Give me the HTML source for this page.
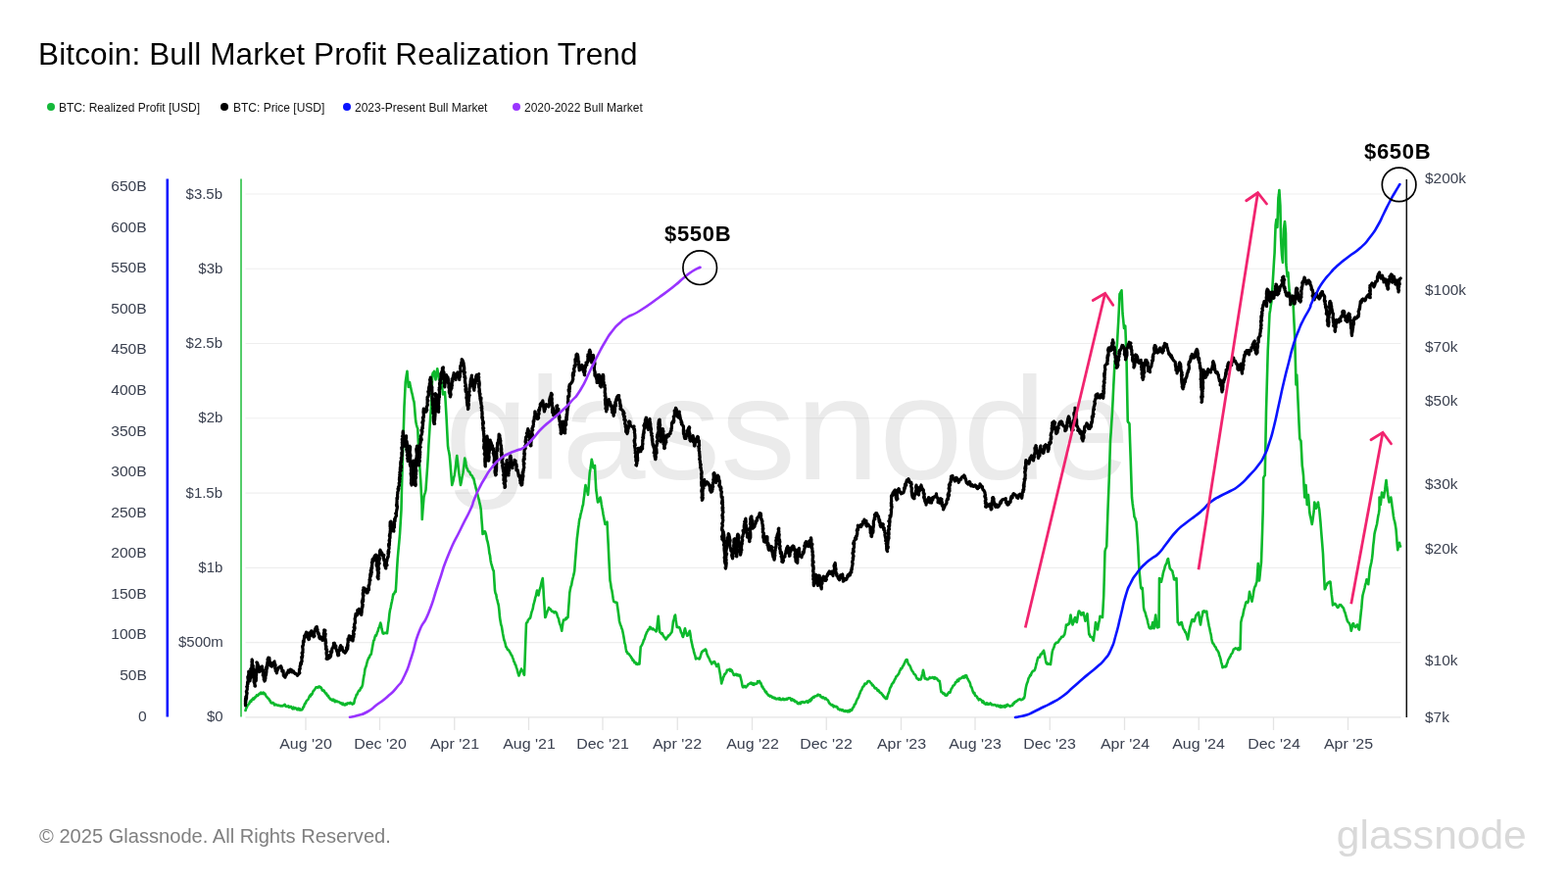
<!DOCTYPE html>
<html><head><meta charset="utf-8"><title>Bitcoin: Bull Market Profit Realization Trend</title>
<style>
html,body{margin:0;padding:0;background:#fff;}
body{width:1600px;height:900px;position:relative;overflow:hidden;font-family:"Liberation Sans",sans-serif;}
.t{position:absolute;white-space:nowrap;line-height:1;will-change:transform;}
.ax{font-size:14px;color:#3b4150;letter-spacing:0px;transform:scaleX(1.14);}
.r{transform-origin:100% 50%;}.l{transform-origin:0 50%;}.c{transform-origin:50% 50%;}
.r{text-align:right;}
.c{text-align:center;}
</style></head><body>
<svg width="1600" height="900" viewBox="0 0 1600 900" style="position:absolute;left:0;top:0">
<text x="454" y="489.3" font-family="'Liberation Sans',sans-serif" font-size="149" fill="#ebebeb" textLength="699" lengthAdjust="spacingAndGlyphs">glassnode</text>
<line x1="250.5" x2="1429.5" y1="655.54" y2="655.54" stroke="rgba(0,0,0,0.065)" stroke-width="1.2"/>
<line x1="250.5" x2="1429.5" y1="579.29" y2="579.29" stroke="rgba(0,0,0,0.065)" stroke-width="1.2"/>
<line x1="250.5" x2="1429.5" y1="503.03" y2="503.03" stroke="rgba(0,0,0,0.065)" stroke-width="1.2"/>
<line x1="250.5" x2="1429.5" y1="426.77" y2="426.77" stroke="rgba(0,0,0,0.065)" stroke-width="1.2"/>
<line x1="250.5" x2="1429.5" y1="350.51" y2="350.51" stroke="rgba(0,0,0,0.065)" stroke-width="1.2"/>
<line x1="250.5" x2="1429.5" y1="274.26" y2="274.26" stroke="rgba(0,0,0,0.065)" stroke-width="1.2"/>
<line x1="250.5" x2="1429.5" y1="198.0" y2="198.0" stroke="rgba(0,0,0,0.065)" stroke-width="1.2"/>
<line x1="250.5" x2="1429.5" y1="731.9" y2="731.9" stroke="#e4e4e4" stroke-width="1.4"/>
<line x1="312" x2="312" y1="732" y2="745" stroke="#e4e4e4" stroke-width="1.3"/>
<line x1="387.5" x2="387.5" y1="732" y2="745" stroke="#e4e4e4" stroke-width="1.3"/>
<line x1="463.75" x2="463.75" y1="732" y2="745" stroke="#e4e4e4" stroke-width="1.3"/>
<line x1="539.5" x2="539.5" y1="732" y2="745" stroke="#e4e4e4" stroke-width="1.3"/>
<line x1="615" x2="615" y1="732" y2="745" stroke="#e4e4e4" stroke-width="1.3"/>
<line x1="691.25" x2="691.25" y1="732" y2="745" stroke="#e4e4e4" stroke-width="1.3"/>
<line x1="767.5" x2="767.5" y1="732" y2="745" stroke="#e4e4e4" stroke-width="1.3"/>
<line x1="843.25" x2="843.25" y1="732" y2="745" stroke="#e4e4e4" stroke-width="1.3"/>
<line x1="919.5" x2="919.5" y1="732" y2="745" stroke="#e4e4e4" stroke-width="1.3"/>
<line x1="995" x2="995" y1="732" y2="745" stroke="#e4e4e4" stroke-width="1.3"/>
<line x1="1071.25" x2="1071.25" y1="732" y2="745" stroke="#e4e4e4" stroke-width="1.3"/>
<line x1="1147.5" x2="1147.5" y1="732" y2="745" stroke="#e4e4e4" stroke-width="1.3"/>
<line x1="1223.25" x2="1223.25" y1="732" y2="745" stroke="#e4e4e4" stroke-width="1.3"/>
<line x1="1299.5" x2="1299.5" y1="732" y2="745" stroke="#e4e4e4" stroke-width="1.3"/>
<line x1="1375.5" x2="1375.5" y1="732" y2="745" stroke="#e4e4e4" stroke-width="1.3"/>
<line x1="170.8" x2="170.8" y1="182.5" y2="731.5" stroke="#0a14ff" stroke-width="2.6"/>
<line x1="246" x2="246" y1="182.5" y2="731.5" stroke="#4ccb63" stroke-width="1.9"/>
<line x1="1435.3" x2="1435.3" y1="183" y2="732" stroke="#111" stroke-width="1.5"/>
<path d="M250.5,725 L251.17,722.81 L251.83,721.76 L252.5,720 L253.12,718.96 L253.75,718.65 L254.38,717.91 L255,716.01 L255.62,715.12 L256.25,715.99 L256.88,714.05 L257.5,713.75 L258.12,712.7 L258.75,713.7 L259.38,712.13 L260,712.34 L260.62,711.1 L261.25,710.9 L261.88,709.41 L262.5,709.85 L263.12,709.8 L263.75,708.59 L264.38,708.5 L265,707.5 L265.62,707.84 L266.25,706.63 L266.88,708.02 L267.5,707.68 L268.12,707.1 L268.75,706.56 L269.38,708.23 L270,707.5 L270.62,708.28 L271.25,709.6 L271.88,710.76 L272.5,711.26 L273.12,712.51 L273.75,712.5 L274.38,713.12 L275,714.77 L275.62,714.89 L276.25,716.7 L276.88,717.42 L277.5,717.5 L278.12,716.94 L278.75,717.27 L279.38,717.68 L280,719.43 L280.62,718.62 L281.25,719.25 L281.88,718.85 L282.5,719.51 L283.12,719.52 L283.75,720 L284.38,719.63 L285,720.02 L285.62,719.94 L286.25,720.51 L286.88,719.99 L287.5,720.41 L288.12,720.19 L288.75,720.38 L289.38,719.67 L290,719.25 L290.62,718.81 L291.25,720.43 L291.88,720.87 L292.5,720.98 L293.12,720.53 L293.75,721.05 L294.38,720.28 L295,721.75 L295.62,721.46 L296.25,721.11 L296.88,720.9 L297.5,722 L298.17,722.87 L298.83,723.31 L299.5,721.68 L300.17,723.27 L300.83,722.65 L301.5,722.3 L302.17,722.75 L302.83,723.87 L303.5,724.25 L304.17,722.76 L304.83,724.06 L305.5,723.09 L306.17,724.6 L306.83,724 L307.5,724.5 L308.12,724.26 L308.75,723.46 L309.38,721.51 L310,721.5 L310.62,719.12 L311.25,717.65 L311.88,717.7 L312.5,715.56 L313.12,714.89 L313.75,714.32 L314.38,713.72 L315,712.5 L315.62,710.87 L316.25,709.71 L316.88,710.42 L317.5,708.38 L318.12,708.73 L318.75,707.67 L319.38,705.69 L320,704.92 L320.62,704.1 L321.25,703.41 L321.88,702.38 L322.5,701.25 L323.12,701.24 L323.75,701.24 L324.38,701.76 L325,700.76 L325.62,700.49 L326.25,700.5 L326.88,701.66 L327.5,701.41 L328.12,702.26 L328.75,704.33 L329.38,704.14 L330,704.91 L330.62,704.55 L331.25,706.25 L331.88,706.83 L332.5,707.91 L333.12,707.54 L333.75,709.48 L334.38,710.26 L335,709.87 L335.62,711.75 L336.25,712.18 L336.88,713.36 L337.5,713.75 L338.12,713.66 L338.75,714.58 L339.38,714.85 L340,713.63 L340.62,713.91 L341.25,715.35 L341.88,716.13 L342.5,714.92 L343.12,715.54 L343.75,716.02 L344.38,715.68 L345,716.25 L345.62,716.28 L346.25,716.48 L346.88,716.89 L347.5,717.64 L348.12,717.35 L348.75,717.8 L349.38,718.89 L350,717.7 L350.62,719.09 L351.25,719.25 L351.88,719.5 L352.5,718.43 L353.12,718.04 L353.75,718.98 L354.38,717.63 L355,717.31 L355.62,717.59 L356.25,717.5 L356.89,718 L357.54,716.92 L358.18,717.47 L358.82,717.6 L359.46,718.7 L360.11,718.02 L360.75,718.25 L361.35,717.06 L361.95,713.79 L362.55,712.22 L363.15,710.95 L363.75,708.75 L364.38,708.69 L365,706.99 L365.62,705.7 L366.25,704.66 L366.88,704.64 L367.5,703.75 L368.12,701.88 L368.75,701.86 L369.38,700.68 L370,698.75 L370.62,694.05 L371.25,690.18 L371.88,687.18 L372.5,682.5 L373.12,680.91 L373.75,679.36 L374.38,676.57 L375,674.26 L375.62,672.71 L376.25,671.25 L376.88,670.9 L377.5,668.92 L378.12,668.13 L378.75,667.5 L379.38,663.9 L380,660.46 L380.62,657.01 L381.25,653.75 L381.88,653.13 L382.5,650.15 L383.12,648.38 L383.75,648.8 L384.38,647.22 L385,645 L385.65,644.07 L386.3,641.07 L386.95,640.2 L387.6,638.25 L388.25,635.5 L388.88,637.63 L389.5,641.37 L390.12,644.24 L390.75,646.25 L391.36,646.58 L391.96,646.29 L392.57,645.83 L393.18,645.93 L393.79,645.7 L394.39,645.39 L395,646.25 L395.6,641.68 L396.2,636.32 L396.8,632.62 L397.4,626.34 L398,622.5 L398.65,620.06 L399.3,616.39 L399.95,613.6 L400.6,610.29 L401.25,606.25 L401.88,606.42 L402.5,605.15 L403.12,603.4 L403.75,603.75 L404.42,592.99 L405.08,580.59 L405.75,570 L406.5,561.27 L407.25,553.66 L408,545 L408.75,532.55 L409.5,520 L410,497.5 L410.62,476.08 L411.25,455 L411.88,435.88 L412.5,415 L413.12,402.72 L413.75,390 L414.33,385.93 L414.92,382 L415.5,378.75 L416.12,387.6 L416.75,395 L417.38,392.45 L418,390 L418.67,393.9 L419.33,396.37 L420,400 L420.62,401.89 L421.25,405.07 L421.88,408.13 L422.5,410 L423.08,416.01 L423.67,423.92 L424.25,430 L424.92,433.34 L425.58,435.61 L426.25,437.5 L426.88,451.9 L427.5,465 L428.08,472.35 L428.67,481.92 L429.25,490 L429.88,503.23 L430.5,515 L430.75,530 L431.33,521.6 L431.92,514.54 L432.5,507.5 L433.17,504.54 L433.83,502.55 L434.5,500 L435.08,491.51 L435.67,483.28 L436.25,475 L436.83,465.55 L437.42,454 L438,445 L438.67,434.11 L439.33,424.25 L440,415 L440.62,398 L441.25,382.5 L441.83,380.39 L442.42,380.95 L443,378.75 L443.75,383.83 L444.5,387.5 L445.08,382.92 L445.67,380 L446.25,376.25 L446.83,379.63 L447.42,383.38 L448,387.5 L448.67,386.37 L449.33,386.13 L450,385 L450.67,391.01 L451.33,396.39 L452,402.5 L452.67,401.05 L453.33,400.49 L454,400 L454.75,411.75 L455.5,425 L456.25,440.11 L457,455 L457.58,458.77 L458.17,461.43 L458.75,465 L459.38,471.66 L460,479.36 L460.62,487.25 L461.25,495 L461.88,492.71 L462.5,490.57 L463.12,487.26 L463.75,485 L464.38,480.6 L465,475.25 L465.62,469.86 L466.25,465 L466.83,469.74 L467.42,474.99 L468,480 L468.67,485.41 L469.33,489.84 L470,495 L470.62,492.26 L471.25,488.67 L471.88,485.12 L472.5,482.5 L473.08,477.57 L473.67,472.89 L474.25,467.5 L474.92,469.98 L475.58,474.02 L476.25,477.5 L476.88,478.29 L477.5,480.13 L478.12,481.19 L478.75,481.25 L479.38,481.94 L480,483.92 L480.62,484.64 L481.25,485 L481.88,485.77 L482.5,487.43 L483.12,488 L483.75,490 L484.38,493.13 L485,495.32 L485.62,498.27 L486.25,500 L486.88,503.08 L487.5,505.34 L488.12,507.97 L488.75,510 L489.42,513.46 L490.08,515.87 L490.75,520 L491.33,528.51 L491.92,535.68 L492.5,545 L493.12,543.66 L493.75,544.3 L494.38,542.21 L495,542.5 L495.62,544.18 L496.25,546.7 L496.88,550.76 L497.5,552.5 L498.12,555.61 L498.75,559.05 L499.38,564.43 L500,566.74 L500.62,571.94 L501.25,575 L501.88,577.22 L502.5,579.42 L503.12,581.53 L503.75,582.5 L504.38,592.66 L505,602.5 L505.62,605.6 L506.25,606.57 L506.88,610.53 L507.5,612.52 L508.12,615.43 L508.75,617.5 L509.38,622.96 L510,630 L510.62,633.83 L511.25,637.54 L511.88,639.12 L512.5,642.98 L513.12,646.79 L513.75,650 L514.38,653.16 L515,654.48 L515.62,656.86 L516.25,660 L516.88,660.33 L517.5,661.9 L518.12,663.01 L518.75,663.12 L519.38,663.9 L520,665 L520.62,666.04 L521.25,667.2 L521.88,668.59 L522.5,669.17 L523.12,671.25 L523.75,672.5 L524.38,675.11 L525,675.66 L525.62,677.99 L526.25,678.49 L526.88,681.22 L527.5,682.5 L528.17,685.35 L528.83,687.51 L529.5,689.5 L530.12,687.78 L530.75,685.97 L531.38,684.54 L532,682.5 L532.6,684.54 L533.2,684.3 L533.8,685.44 L534.4,688 L535,688.75 L535.67,672.08 L536.33,653.78 L537,636.25 L537.61,635.24 L538.21,634.9 L538.82,632.94 L539.43,632.21 L540.04,631.18 L540.64,631.06 L541.25,630 L541.88,627.13 L542.5,624.46 L543.12,622.88 L543.75,620.91 L544.38,617.09 L545,615 L545.6,612.91 L546.2,609.83 L546.8,608.21 L547.4,605.17 L548,602.5 L548.75,604.53 L549.5,607.5 L550.11,604.44 L550.71,601.55 L551.32,599.96 L551.93,597.27 L552.54,594.34 L553.14,592.22 L553.75,590 L554.38,599.64 L555,610.55 L555.62,619.29 L556.25,630 L556.88,629.32 L557.5,626.63 L558.12,625.2 L558.75,623.27 L559.38,622.34 L560,620 L560.62,621.27 L561.25,621.36 L561.88,621.84 L562.5,622.94 L563.12,623.84 L563.75,623.75 L564.38,623.76 L565,624.63 L565.62,625.3 L566.25,624.52 L566.88,624.25 L567.5,625 L568.12,626.03 L568.75,628.56 L569.38,630.04 L570,631.25 L570.65,634.67 L571.3,636.96 L571.95,638.23 L572.6,640.63 L573.25,643.75 L573.83,639.52 L574.42,635.62 L575,632.5 L575.64,632.55 L576.29,632.5 L576.93,632.23 L577.57,630.58 L578.21,631.44 L578.86,629.98 L579.5,630 L580.08,621.51 L580.67,613.79 L581.25,605 L581.88,601.36 L582.5,598.56 L583.12,597.23 L583.75,593.33 L584.38,590.65 L585,588.29 L585.62,585.66 L586.25,582.5 L586.88,573.39 L587.5,565.92 L588.12,558 L588.75,550 L589.38,544.97 L590,539.42 L590.62,535.17 L591.25,530 L591.88,528.41 L592.5,524.78 L593.12,522.59 L593.75,520 L594.38,516.74 L595,515 L595.62,509.55 L596.25,505.33 L596.88,499.23 L597.5,495 L598.12,498.27 L598.75,500.82 L599.38,501.69 L600,505 L600.58,498.38 L601.17,489.75 L601.75,482.5 L602.42,478.46 L603.08,473.85 L603.75,468.75 L604.33,471.26 L604.92,474.94 L605.5,477.5 L606.25,476.56 L607,475 L607.62,488.11 L608.25,500 L608.83,503.7 L609.42,508.84 L610,512.5 L610.62,512.17 L611.25,510.35 L611.88,508.82 L612.5,507.5 L613.08,510.06 L613.67,514.15 L614.25,517.5 L614.9,520.7 L615.55,524.94 L616.2,528.36 L616.85,531.63 L617.5,535 L618.17,533.53 L618.83,533.62 L619.5,532.5 L620.1,544.76 L620.7,555.86 L621.3,569.28 L621.9,580.81 L622.5,592.5 L623.12,595.29 L623.75,600.45 L624.38,602.41 L625,606.33 L625.62,610.65 L626.25,613.75 L626.9,614.19 L627.55,614.36 L628.2,614.79 L628.85,614.67 L629.5,615 L630.12,619.31 L630.75,623.73 L631.38,628.2 L632,633.75 L632.6,635.93 L633.2,637.76 L633.8,639.09 L634.4,641.23 L635,642.5 L635.61,645.43 L636.21,648.46 L636.82,651.91 L637.43,656.1 L638.04,657.66 L638.64,661.8 L639.25,665 L639.89,665.21 L640.54,666.97 L641.18,666.85 L641.82,667.52 L642.46,668.38 L643.11,669.37 L643.75,670 L644.38,671.59 L645,671.79 L645.62,673.82 L646.25,673.39 L646.88,674.75 L647.5,676.25 L648.12,675.76 L648.75,676.1 L649.38,677.75 L650,677.5 L650.62,677.95 L651.25,676.87 L651.88,676.88 L652.5,677.5 L653.12,668.58 L653.75,660 L654.38,659.24 L655,658.13 L655.62,656.75 L656.25,655.18 L656.88,653.04 L657.5,652.5 L658.12,650.42 L658.75,648.14 L659.38,646.93 L660,645 L660.62,644.3 L661.25,642.74 L661.88,642 L662.5,642.23 L663.12,639.89 L663.75,640 L664.38,641.02 L665,641.62 L665.62,642.15 L666.25,641.43 L666.88,642.19 L667.5,642.5 L668.12,642.98 L668.75,643.39 L669.38,644.39 L670,643.75 L670.58,639.12 L671.17,633.35 L671.75,628.75 L672.5,637.6 L673.25,645 L673.85,645.47 L674.45,646.2 L675.05,646.95 L675.65,646 L676.25,647.5 L676.9,649.04 L677.55,649.82 L678.2,650.48 L678.85,651.55 L679.5,652.5 L680.1,651.67 L680.7,650.39 L681.3,650.31 L681.9,648.57 L682.5,648.75 L683.1,648 L683.7,647.54 L684.3,646.39 L684.9,645.88 L685.5,645 L686.25,640.29 L687,633.75 L687.67,632.45 L688.33,628.85 L689,627.5 L689.58,632.25 L690.17,636.08 L690.75,640 L691.35,639.35 L691.95,640.22 L692.55,640.22 L693.15,640.16 L693.75,641.25 L694.4,643.08 L695.05,645.61 L695.7,646.15 L696.35,648.99 L697,650 L697.67,647.47 L698.33,643.44 L699,641.25 L699.75,644.47 L700.5,646.45 L701.25,648.75 L701.88,648.35 L702.5,646.68 L703.12,645.48 L703.75,643.75 L704.38,646.87 L705,651.24 L705.62,654.93 L706.25,657.5 L706.88,660.72 L707.5,662.37 L708.12,665.51 L708.75,667.47 L709.38,669.22 L710,672.5 L710.62,671.59 L711.25,671.66 L711.88,671.9 L712.5,671.82 L713.12,672.49 L713.75,672.5 L714.38,671.02 L715,668.82 L715.62,666.72 L716.25,665 L716.88,664.88 L717.5,663.78 L718.12,663.68 L718.75,663.85 L719.38,662.72 L720,662.5 L720.62,663.74 L721.25,667.05 L721.88,668.56 L722.5,670 L723.12,670.98 L723.75,672.24 L724.38,673.81 L725,675.19 L725.62,675.7 L726.25,677.5 L726.88,675.88 L727.5,675.67 L728.12,676.19 L728.75,675 L729.38,675.54 L730,677.42 L730.62,678.14 L731.25,680 L731.83,678.59 L732.42,677.67 L733,677.5 L733.65,681.31 L734.3,684.84 L734.95,688.55 L735.6,692.72 L736.25,697.5 L736.88,694.96 L737.5,693.73 L738.12,690.99 L738.75,690 L739.38,688 L740,687.81 L740.62,686.69 L741.25,686.24 L741.88,683.89 L742.5,683.75 L743.12,683.56 L743.75,683.54 L744.38,682.8 L745,684.68 L745.62,683.19 L746.25,683.75 L746.88,684.19 L747.5,686.2 L748.12,686.83 L748.75,688.75 L749.38,688.99 L750,688.44 L750.62,688 L751.25,687.85 L751.88,689.21 L752.5,688.3 L753.12,689.33 L753.75,688.68 L754.38,689.62 L755,688.75 L755.6,690.85 L756.2,693.25 L756.8,695.78 L757.4,699.38 L758,701.25 L758.64,701.33 L759.29,700.58 L759.93,699.9 L760.57,700.9 L761.21,701.3 L761.86,700.36 L762.5,700 L763.12,698.59 L763.75,698.23 L764.38,697.93 L765,697.67 L765.62,696.99 L766.25,697.5 L766.88,696.69 L767.5,697.98 L768.12,698.55 L768.75,697.23 L769.38,698.86 L770,698 L770.62,697.58 L771.25,697.86 L771.88,697.71 L772.5,697.38 L773.12,695.19 L773.75,695.36 L774.38,695.59 L775,695 L775.62,697.14 L776.25,696.68 L776.88,698.34 L777.5,700.7 L778.12,700.48 L778.75,702.5 L779.38,703.06 L780,703.73 L780.62,705.2 L781.25,706.48 L781.88,705.76 L782.5,707.67 L783.12,708.44 L783.75,708.75 L784.38,709.8 L785,709.61 L785.62,710.72 L786.25,709.98 L786.88,710.45 L787.5,710.46 L788.12,711.93 L788.75,711.71 L789.38,711.66 L790,712.5 L790.62,711.94 L791.25,713.15 L791.88,713.02 L792.5,713.34 L793.12,712.79 L793.75,713.1 L794.38,712.54 L795,713.75 L795.62,712.48 L796.25,713.48 L796.88,714.16 L797.5,713.75 L798.12,714 L798.75,712.74 L799.38,712.91 L800,714.02 L800.62,713.51 L801.25,713.88 L801.88,713.77 L802.5,712.82 L803.12,713.61 L803.75,713.17 L804.38,712.27 L805,712.5 L805.62,712.55 L806.25,712.27 L806.88,713.24 L807.5,714.66 L808.12,713.27 L808.75,714.51 L809.38,713.91 L810,715 L810.62,714.57 L811.25,716.11 L811.88,715.7 L812.5,715.72 L813.12,716.34 L813.75,717.73 L814.38,718.01 L815,718.25 L815.62,716.94 L816.25,717.04 L816.88,718.18 L817.5,716.36 L818.12,716.71 L818.75,716.25 L819.38,716.09 L820,716.81 L820.62,716.46 L821.25,716.83 L821.88,716.32 L822.5,715.63 L823.12,715.61 L823.75,715.41 L824.38,716.9 L825,716.25 L825.62,714.9 L826.25,714.15 L826.88,715.46 L827.5,713.35 L828.12,714.16 L828.75,711.97 L829.38,712.16 L830,711.1 L830.62,711.73 L831.25,710.5 L831.88,710.44 L832.5,710.2 L833.12,710.15 L833.75,710.08 L834.38,708.73 L835,708.75 L835.62,709.37 L836.25,709.47 L836.88,709.22 L837.5,711.09 L838.12,711.02 L838.75,711.25 L839.38,712.19 L840,711.29 L840.62,712.27 L841.25,712.43 L841.88,713.27 L842.5,712.28 L843.12,713.13 L843.75,713.75 L844.38,714.55 L845,714.56 L845.62,716.36 L846.25,717.55 L846.88,717.76 L847.5,718.75 L848.12,719.36 L848.75,719.59 L849.38,719.12 L850,719.7 L850.62,721.3 L851.25,720.3 L851.88,720.8 L852.5,721.25 L853.12,720.73 L853.75,721.31 L854.38,721.52 L855,723.36 L855.62,723.27 L856.25,723.87 L856.88,724.41 L857.5,723.75 L858.12,724.15 L858.75,724.96 L859.38,724.35 L860,724.29 L860.62,725.52 L861.25,725.61 L861.88,725.87 L862.5,725.12 L863.12,725.87 L863.75,725.5 L864.38,725.25 L865,726.37 L865.62,726.15 L866.25,724.83 L866.88,726.06 L867.5,724.49 L868.12,724.25 L868.75,725 L869.38,724.4 L870,722.51 L870.62,721.91 L871.25,721.11 L871.88,718.87 L872.5,718.75 L873.12,717.83 L873.75,715.49 L874.38,714.4 L875,712.81 L875.62,712.2 L876.25,710.81 L876.88,708.48 L877.5,707.5 L878.12,705.46 L878.75,704.6 L879.38,703.57 L880,701.66 L880.62,700.56 L881.25,700.53 L881.88,699.15 L882.5,697.5 L883.14,698.1 L883.79,697.75 L884.43,697.18 L885.07,695.82 L885.71,695.04 L886.36,694.98 L887,695 L887.61,695.64 L888.21,696.48 L888.82,697.23 L889.43,697.58 L890.04,699.28 L890.64,698.86 L891.25,700 L891.88,700.55 L892.5,702.02 L893.12,702.49 L893.75,702.09 L894.38,702.61 L895,703.75 L895.62,704.99 L896.25,704.02 L896.88,704.89 L897.5,706.31 L898.12,706.95 L898.75,706.83 L899.38,707.23 L900,708.75 L900.62,708.69 L901.25,710.35 L901.88,710.28 L902.5,711.83 L903.12,711.98 L903.75,712.9 L904.38,711.54 L905,713 L905.62,710.41 L906.25,708.11 L906.88,706.99 L907.5,704.84 L908.12,702.31 L908.75,701.25 L909.38,700.25 L910,698.25 L910.62,697.59 L911.25,696.37 L911.88,696.39 L912.5,694.52 L913.12,693.11 L913.75,692.5 L914.38,690.49 L915,690.17 L915.62,689.47 L916.25,688.48 L916.88,687.86 L917.5,686.55 L918.12,684.34 L918.75,683.75 L919.38,681.98 L920,682.18 L920.62,681.2 L921.25,679.6 L921.88,679.2 L922.5,677.5 L923.12,676.48 L923.75,674.81 L924.38,673.46 L925,673 L925.62,673.2 L926.25,675.62 L926.88,677.29 L927.5,678.48 L928.12,678.77 L928.75,680 L929.38,681.58 L930,683.36 L930.62,684.38 L931.25,685.21 L931.88,686.08 L932.5,687.5 L933.12,688.32 L933.75,688.4 L934.38,689.21 L935,690.99 L935.62,692.39 L936.25,692.28 L936.88,692.79 L937.5,693.75 L938.12,693.14 L938.75,693.03 L939.38,693.42 L940,692.5 L940.67,689.49 L941.33,687.59 L942,683.75 L942.58,685.98 L943.17,689.21 L943.75,692.5 L944.38,692.54 L945,692.32 L945.62,693.2 L946.25,693.16 L946.88,693.36 L947.5,692.5 L948.12,692.52 L948.75,691.14 L949.38,692.02 L950,691.77 L950.62,691.43 L951.25,691.25 L951.88,690.97 L952.5,691.98 L953.12,692.54 L953.75,691.08 L954.38,692.37 L955,691.93 L955.62,692.37 L956.25,692.5 L956.88,693.92 L957.5,694.67 L958.12,694.66 L958.75,695 L959.33,698.14 L959.92,703.34 L960.5,706.25 L961.14,705.97 L961.78,706.74 L962.42,707.99 L963.06,707.33 L963.69,707.6 L964.33,709.32 L964.97,709.67 L965.61,708.77 L966.25,709.5 L966.88,708.54 L967.5,707.56 L968.12,706.51 L968.75,706 L969.38,706.71 L970,705 L970.62,703.06 L971.25,702.27 L971.88,701.12 L972.5,699.78 L973.12,699.58 L973.75,698.92 L974.38,698.02 L975,696.25 L975.62,696.04 L976.25,695.95 L976.88,693.85 L977.5,693.94 L978.12,694.83 L978.75,692.58 L979.38,692.5 L980,692.5 L980.62,692.17 L981.25,691.44 L981.88,691.69 L982.5,690.39 L983.12,690.47 L983.75,691.62 L984.38,689.69 L985,690.91 L985.62,689.16 L986.25,689.5 L986.88,691.86 L987.5,692.6 L988.12,693.92 L988.75,695 L989.38,695.95 L990,697.44 L990.62,700.52 L991.25,701.02 L991.88,702.71 L992.5,705 L993.12,706.58 L993.75,707.62 L994.38,706.91 L995,709.67 L995.62,709.76 L996.25,710.39 L996.88,710.78 L997.5,712.5 L998.12,712.7 L998.75,714.31 L999.38,713.31 L1000,713.43 L1000.62,713.87 L1001.25,714.25 L1001.88,715.12 L1002.5,716.66 L1003.12,715.4 L1003.75,716.05 L1004.38,717.96 L1005,717.5 L1005.62,718.6 L1006.25,718.67 L1006.88,717.3 L1007.5,717.63 L1008.12,718.92 L1008.75,718.1 L1009.38,718.64 L1010,717.96 L1010.62,717.48 L1011.25,718.23 L1011.88,719.14 L1012.5,718.75 L1013.12,719.47 L1013.75,719.2 L1014.38,719.15 L1015,719.45 L1015.62,719.42 L1016.25,719.76 L1016.88,720.51 L1017.5,720 L1018.12,719.53 L1018.75,720.44 L1019.38,721.24 L1020,721.2 L1020.62,719.98 L1021.25,721.68 L1021.88,721.56 L1022.5,720.34 L1023.12,720.66 L1023.75,721.25 L1024.38,720.44 L1025,719.92 L1025.62,721.55 L1026.25,720.19 L1026.88,720.9 L1027.5,719.17 L1028.12,718.75 L1028.75,719.5 L1029.38,720.32 L1030,720.25 L1030.62,720.73 L1031.25,720.2 L1031.88,719.97 L1032.5,720 L1033.12,719.91 L1033.75,717.94 L1034.38,718.21 L1035,717.38 L1035.62,716.17 L1036.25,716.25 L1036.88,716.03 L1037.5,715.06 L1038.12,715.01 L1038.75,714.33 L1039.38,713.8 L1040,713.75 L1040.62,713.31 L1041.25,713.64 L1041.88,714.24 L1042.5,714 L1043.12,713.69 L1043.75,713.48 L1044.38,712.23 L1045,712.5 L1045.62,710.02 L1046.25,705.16 L1046.88,701.43 L1047.5,698.75 L1048.12,696.88 L1048.75,695.46 L1049.38,692.81 L1050,691.25 L1050.62,690.5 L1051.25,688.73 L1051.88,689.06 L1052.5,686.99 L1053.12,686 L1053.75,685 L1054.38,684.44 L1055,684.5 L1055.62,684.1 L1056.25,682.5 L1056.88,680.06 L1057.5,677.38 L1058.12,675.24 L1058.75,672.5 L1059.38,670.81 L1060,670.68 L1060.62,670.69 L1061.25,669.72 L1061.88,667.45 L1062.5,667.5 L1063.12,667.27 L1063.75,665.39 L1064.38,665.65 L1065,663.75 L1065.62,666.61 L1066.25,669.43 L1066.88,673.22 L1067.5,676.25 L1068.14,677.27 L1068.79,676.61 L1069.43,677.73 L1070.07,677.67 L1070.71,677.22 L1071.36,677.35 L1072,678 L1072.58,673.68 L1073.17,669.13 L1073.75,665 L1074.38,662.87 L1075,661.55 L1075.62,660.13 L1076.25,657.5 L1076.88,657.25 L1077.5,655.96 L1078.12,655.69 L1078.75,655.58 L1079.38,655.65 L1080,655 L1080.62,653.45 L1081.25,652.5 L1081.88,652.14 L1082.5,651.23 L1083.12,649.89 L1083.75,650 L1084.38,649.45 L1085,649.59 L1085.62,648.19 L1086.25,647.5 L1086.83,644.64 L1087.42,641.49 L1088,637.5 L1088.65,637.93 L1089.3,637.83 L1089.95,636.63 L1090.6,636.86 L1091.25,636.25 L1091.88,631.12 L1092.5,627.5 L1093.17,631.59 L1093.83,633.92 L1094.5,637.5 L1095.12,635.58 L1095.75,634.53 L1096.38,631.45 L1097,630 L1097.58,631.05 L1098.17,633.98 L1098.75,635 L1099.42,631.45 L1100.08,626.67 L1100.75,623.75 L1101.35,623.56 L1101.95,624.95 L1102.55,625.01 L1103.15,627.41 L1103.75,627.5 L1104.33,626.03 L1104.92,625.38 L1105.5,625 L1106.17,627.69 L1106.83,630.86 L1107.5,633.75 L1108.17,631.11 L1108.83,629.01 L1109.5,626.25 L1110.08,633.65 L1110.67,640.29 L1111.25,647.5 L1111.88,647.32 L1112.5,649.71 L1113.12,649.76 L1113.75,650 L1114.42,650.42 L1115.08,652.38 L1115.75,653.75 L1116.5,648.01 L1117.25,642.23 L1118,635 L1118.67,636.63 L1119.33,639.02 L1120,642.5 L1120.62,639.02 L1121.25,635.47 L1121.88,632.98 L1122.5,628.75 L1123.12,629.72 L1123.75,629.04 L1124.38,629.53 L1125,630 L1125.62,618.92 L1126.25,607.5 L1126.88,585.77 L1127.5,562.5 L1128.08,560.24 L1128.67,558.95 L1129.25,557.5 L1129.88,537.93 L1130.5,520 L1131.25,501.53 L1132,482.5 L1132.5,465.3 L1133,450 L1133.67,440.87 L1134.33,430.05 L1135,420 L1135.62,407.65 L1136.25,394.17 L1136.88,381.96 L1137.5,370 L1138.12,364.94 L1138.75,360.71 L1139.38,355.08 L1140,350 L1140.62,338.32 L1141.25,327.5 L1141.88,314.71 L1142.5,300 L1143.17,299.07 L1143.83,297.56 L1144.5,296.25 L1145,307.53 L1145.5,320 L1146.25,327.1 L1147,335 L1147.62,334.55 L1148.25,332.5 L1148.88,348.02 L1149.5,365 L1150.12,397.56 L1150.75,430 L1151.33,431.07 L1151.92,431.38 L1152.5,432.5 L1153.12,451.79 L1153.75,470 L1154.38,489.57 L1155,507.5 L1155.62,513.22 L1156.25,517.98 L1156.88,521.91 L1157.5,527.5 L1158.17,528.29 L1158.83,530.7 L1159.5,532.5 L1160.08,540.46 L1160.67,548.55 L1161.25,557.5 L1161.88,570.74 L1162.5,582.5 L1163.08,587.77 L1163.67,594.81 L1164.25,600 L1165,600.88 L1165.75,600 L1166.38,609.24 L1167,620 L1167.62,623.01 L1168.25,624.17 L1168.88,625.99 L1169.5,628.75 L1170.1,630.37 L1170.7,632.33 L1171.3,635.5 L1171.9,637.52 L1172.5,640 L1173.12,641.02 L1173.75,641.29 L1174.38,640.05 L1175,641.25 L1175.62,637.93 L1176.25,635 L1176.88,637.9 L1177.5,641.25 L1178.08,636.02 L1178.67,631.58 L1179.25,627.5 L1179.88,633.28 L1180.5,640 L1181.17,640.39 L1181.83,639.68 L1182.5,640 L1183,590 L1183.67,590.47 L1184.33,591.94 L1185,593.75 L1185.62,590.82 L1186.25,588.25 L1186.88,584.8 L1187.5,582.5 L1188.17,580.82 L1188.83,577.76 L1189.5,576.25 L1190.12,575.03 L1190.75,573.34 L1191.38,570.91 L1192,570 L1192.58,573.84 L1193.17,576.46 L1193.75,580 L1194.38,580.7 L1195,581.45 L1195.62,582.13 L1196.25,582.5 L1196.83,585.3 L1197.42,587.45 L1198,591.25 L1198.62,591.51 L1199.25,591.34 L1199.88,590.29 L1200.5,590 L1201.12,612.66 L1201.75,635 L1202.42,635.37 L1203.08,637.46 L1203.75,637.5 L1204.42,637.04 L1205.08,635.28 L1205.75,635 L1206.5,638.13 L1207.25,640.97 L1208,642.5 L1208.67,643.03 L1209.33,645.16 L1210,645 L1210.67,647.47 L1211.33,649.36 L1212,652.5 L1212.75,648.77 L1213.5,643.84 L1214.25,640 L1214.92,637.96 L1215.58,635.17 L1216.25,632.5 L1216.88,632.03 L1217.5,633.18 L1218.12,634.14 L1218.75,633.75 L1219.33,631.62 L1219.92,629.66 L1220.5,627.5 L1221.12,627.6 L1221.75,626.14 L1222.38,625.61 L1223,625 L1223.67,629.33 L1224.33,633.98 L1225,637.5 L1225.62,633.47 L1226.25,629.81 L1226.88,627.71 L1227.5,623.75 L1228.12,623.86 L1228.75,623.36 L1229.38,624.53 L1230,624.52 L1230.62,623.83 L1231.25,623.75 L1231.83,628.48 L1232.42,631.92 L1233,635 L1233.67,638.83 L1234.33,641.25 L1235,645 L1235.67,647.35 L1236.33,652.02 L1237,655 L1237.6,656.47 L1238.2,656.7 L1238.8,657.96 L1239.4,659.13 L1240,660 L1240.6,660.5 L1241.2,662.4 L1241.8,663.13 L1242.4,663.77 L1243,665 L1243.62,666.09 L1244.25,668.86 L1244.88,670.26 L1245.5,672.5 L1246.17,675.87 L1246.83,677.68 L1247.5,681.25 L1248.12,680.83 L1248.75,680.23 L1249.38,680.44 L1250,680.57 L1250.62,679.42 L1251.25,680 L1251.88,677.23 L1252.5,676.21 L1253.12,673.78 L1253.75,672.5 L1254.33,671.68 L1254.92,670.17 L1255.5,670 L1256.15,667.7 L1256.8,667.08 L1257.45,666.35 L1258.1,664.74 L1258.75,662.5 L1259.38,662.45 L1260,662.13 L1260.62,661.38 L1261.25,661.72 L1261.88,661.71 L1262.5,662 L1263.1,662.98 L1263.7,661.43 L1264.3,663.2 L1264.9,662.35 L1265.5,662.5 L1266.25,635 L1266.88,632.37 L1267.5,629.52 L1268.12,628.43 L1268.75,625 L1269.38,621.87 L1270,620.14 L1270.62,617.52 L1271.25,615 L1271.88,614.09 L1272.5,613.82 L1273.12,615.03 L1273.75,613.75 L1274.38,609.33 L1275,603.75 L1275.62,606.72 L1276.25,609.56 L1276.88,610.45 L1277.5,613.75 L1278.12,610.72 L1278.75,607.38 L1279.38,602.89 L1280,600 L1280.62,598.35 L1281.25,597.82 L1281.88,594.97 L1282.5,593.75 L1283.12,584.9 L1283.75,575 L1284.38,583.08 L1285,592.5 L1285.67,586.58 L1286.33,579.54 L1287,573.75 L1287.5,559.39 L1288,545 L1288.75,520 L1289.25,487.5 L1290,485.99 L1290.75,485 L1291.38,453.24 L1292,420 L1292.58,399.66 L1293.17,378.34 L1293.75,357.5 L1294.33,345.37 L1294.92,332.36 L1295.5,320 L1296.17,316.44 L1296.83,311.18 L1297.5,307.5 L1298.12,297.69 L1298.74,287.87 L1299.36,277.58 L1299.98,266.99 L1300.6,258 L1301.1,243.34 L1301.6,230 L1302.4,224 L1302.9,228.28 L1303.4,232 L1303.9,216.42 L1304.4,202 L1304.9,198.52 L1305.4,194 L1305.9,202.01 L1306.4,210 L1307,242 L1307.5,251.91 L1308,260 L1308.5,264.7 L1309,268 L1309.5,251.45 L1310,234 L1310.5,229.75 L1311,226 L1311.5,231.09 L1312,238 L1312.4,270 L1313,276.11 L1313.6,282 L1314.4,278 L1315,287.49 L1315.6,296 L1316.2,300.34 L1316.8,302.41 L1317.4,305.82 L1318,310 L1318.75,309.71 L1319.5,307.5 L1320.08,320.48 L1320.67,332.47 L1321.25,345 L1321.88,369.23 L1322.5,392.5 L1323.25,382.5 L1323.83,394.3 L1324.42,407.59 L1325,420 L1325.62,434.09 L1326.25,447.5 L1326.88,448.96 L1327.5,450 L1328.12,461.82 L1328.75,475 L1329.38,479.27 L1330,485 L1330.62,496.5 L1331.25,507.5 L1331.88,502.02 L1332.5,495 L1333.12,504.28 L1333.75,515 L1334.38,509.01 L1335,505 L1335.62,512.92 L1336.25,522.5 L1336.88,526.2 L1337.5,528.53 L1338.12,531.79 L1338.75,535 L1339.42,531.4 L1340.08,526.06 L1340.75,521.25 L1341.25,512.5 L1341.83,514.11 L1342.42,517.07 L1343,518.75 L1343.67,515.67 L1344.33,514.15 L1345,512.5 L1345.62,516.65 L1346.25,520 L1346.83,526.01 L1347.42,532.4 L1348,540 L1348.67,548.37 L1349.33,556.32 L1350,565 L1350.58,578.03 L1351.17,588.37 L1351.75,601.25 L1352.44,600.29 L1353.12,597.9 L1353.81,597.17 L1354.5,595 L1355.1,594.64 L1355.7,594.83 L1356.3,593.9 L1356.9,593.45 L1357.5,593.75 L1358.12,599.59 L1358.75,606.23 L1359.38,611.25 L1360,617.5 L1360.62,616.65 L1361.25,616.71 L1361.88,615.75 L1362.5,616.25 L1363.12,616.82 L1363.75,618.27 L1364.38,619.15 L1365,620 L1365.62,619.57 L1366.25,618.33 L1366.88,617.17 L1367.5,617.5 L1368.1,617.05 L1368.7,618.18 L1369.3,618.39 L1369.9,619.64 L1370.5,620 L1371.17,621.2 L1371.83,623.86 L1372.5,625 L1373.12,627.39 L1373.75,629.7 L1374.38,632.03 L1375,633.75 L1375.62,634.73 L1376.25,635.48 L1376.88,636.18 L1377.5,637.5 L1378.12,639.75 L1378.75,643.75 L1379.33,641.84 L1379.92,638.75 L1380.5,636.25 L1381.12,636.39 L1381.75,638.98 L1382.38,639.23 L1383,640 L1383.67,639.41 L1384.33,638.21 L1385,637.5 L1385.67,638.42 L1386.33,641.83 L1387,642.5 L1387.58,636 L1388.17,630.57 L1388.75,625 L1389.33,620.17 L1389.92,612.58 L1390.5,607.5 L1391.17,605 L1391.83,602.46 L1392.5,600 L1393.17,596.58 L1393.83,595.02 L1394.5,591.25 L1395.08,592.75 L1395.67,593.61 L1396.25,596.25 L1396.83,590.78 L1397.42,584.43 L1398,580 L1398.67,577.08 L1399.33,574.07 L1400,570 L1400.62,564.56 L1401.25,556.6 L1401.88,551.6 L1402.5,545 L1403.12,542.11 L1403.75,539.95 L1404.38,537.1 L1405,535 L1405.62,530.86 L1406.25,526.77 L1406.88,524 L1407.5,520 L1407.55,507.5 L1408.15,510.43 L1408.75,515 L1409.38,509.68 L1410,502.5 L1410.67,503.25 L1411.33,506.76 L1412,507.5 L1412.62,503.13 L1413.25,500 L1413.88,494.17 L1414.5,490 L1415.08,495.49 L1415.67,500.06 L1416.25,505 L1416.88,509.29 L1417.5,512.5 L1418.08,510.85 L1418.67,509.43 L1419.25,507.5 L1419.9,511.17 L1420.55,516.85 L1421.2,521.02 L1421.85,526.42 L1422.5,530 L1423.17,532.35 L1423.83,535.8 L1424.5,540 L1425.08,547.44 L1425.67,555.02 L1426.25,561.25 L1426.83,558.59 L1427.42,556.67 L1428,553.75 L1428.5,555.75 L1429,557.5" fill="none" stroke="#0cb92c" stroke-width="2.6" stroke-linejoin="round" stroke-linecap="round"/>
<path d="M250.5,720 L250.39,717.6 L250.88,716.29 L250.84,716.46 L250.37,716.03 L250.44,714.73 L250.58,712.36 L251.11,714.31 L250.85,710.89 L251.55,712.79 L251.59,709.59 L252.17,707.19 L252.13,707.16 L251.37,705.47 L251.67,707.26 L251.62,705.33 L252.27,703.49 L252.26,701.25 L251.77,700.82 L252.62,700.71 L252.5,700 L252.36,699.34 L252.61,697.2 L253.1,697.8 L252.53,696.3 L252.95,696.5 L253.28,693.15 L253.66,691.47 L253.07,693.03 L252.83,690.96 L252.78,690.67 L253.73,689.29 L253.95,687.25 L253.82,687.38 L253.76,685.82 L253.75,685 L254.28,687.78 L253.97,687.66 L253.6,688.81 L254.43,690.97 L254.76,689.14 L254.36,691.67 L254.05,691.85 L254.35,691.47 L254.35,695.07 L255,695 L254.67,692.98 L255.11,694.46 L254.85,691.76 L255.54,692.49 L255.98,691.4 L255.45,688.59 L255.66,689.45 L256.5,685.51 L255.68,684.82 L255.87,684.82 L256.42,682.92 L255.83,682.53 L256.39,682.11 L257.21,681.6 L256.8,680.29 L257.12,677.03 L257.5,678.92 L257.59,677.98 L257.13,675.37 L256.91,675.3 L257.5,673.75 L257.07,673.03 L257.34,674.42 L257.6,674.99 L257.28,676.39 L257.5,678.25 L257.51,681.31 L258.31,679.41 L257.97,681.22 L258.2,681.33 L258.88,685.82 L258.52,684.79 L258.16,684.27 L258.56,685.93 L259.24,686.53 L258.37,690.7 L259.07,688.49 L259.19,689.02 L259.26,693.84 L259.76,693.72 L259.14,693.41 L259.12,696.04 L259.65,697.08 L259.51,695.86 L260.18,699.92 L260.33,700.21 L260,700 L260.49,699.93 L259.89,698.01 L260.15,695.02 L259.87,694.99 L260.25,695.61 L261.2,693.59 L261.29,694.72 L261.42,691.2 L260.64,689.61 L260.72,688.49 L261.34,690.24 L261.71,687.53 L261.6,687.77 L261.02,686.19 L262.12,685.64 L262.04,683.39 L261.46,683.6 L261.76,682.62 L262.63,679.96 L262.06,681.14 L262.55,677 L261.94,675.89 L262.5,676.25 L263.26,678.45 L262.63,679.5 L263.91,679.8 L263.43,680.33 L263.45,679.17 L264.73,682.68 L264.48,684.79 L264.64,685.51 L265,685 L265.89,682.84 L265.7,682.17 L266.19,682.35 L266.71,680.68 L267.5,680 L267.22,682.64 L267.66,681.83 L268.1,684.62 L268.07,685.67 L268.34,685.13 L268.53,684.07 L268.59,685.73 L268.24,689.2 L268.61,688.89 L269.44,690.23 L269.12,691.07 L269.57,693.14 L269.19,693.24 L269.53,693.11 L270,695 L270.48,694.04 L270.39,694.06 L270.96,691.8 L270.76,691.06 L270.8,690.82 L270.88,689.2 L271.07,689.84 L271.49,688.59 L271.94,685.13 L271.63,686.88 L272.13,682.66 L271.42,682.89 L271.52,681.1 L271.68,681.82 L272.68,681.74 L272.09,680.03 L272.85,676.75 L273.27,679.06 L272.63,678.01 L273,675.16 L273.87,675.55 L273.03,672.96 L273.61,671.6 L273.75,671.25 L273.8,671.5 L274.85,671.27 L275.06,673.93 L274.84,674.46 L275.98,676.16 L275.73,679.02 L277.01,679.94 L276.61,678.09 L277.5,680 L277.45,680.12 L278.22,676.52 L278.91,678.65 L279.88,675.03 L280,675 L279.81,677.7 L280.54,677.85 L280.19,676.3 L281.13,678.79 L280.62,681.87 L281.52,682.34 L281.09,683.58 L281.3,684.63 L281.99,683.56 L282.34,686.93 L282.5,686.25 L282.76,683.87 L283.6,683.42 L283.64,682.22 L284.1,681.49 L284.95,681.01 L286.03,680.05 L286.25,680 L286.63,679.71 L286.82,680.07 L287.08,681.06 L288.03,684.2 L287.75,684.9 L289.02,684.43 L289.26,686.73 L289.24,689.34 L289.5,689.03 L290,690 L290.98,691.18 L291.31,689.83 L292.5,688.29 L292.89,686.39 L293.75,686.25 L294.15,684.14 L295.11,685.96 L296.27,683.03 L297.5,683.75 L297.75,685.87 L299.44,685.93 L299.49,684.97 L300.25,686.59 L301.25,687.5 L302.09,687.28 L303.47,689.35 L305,687.5 L305.82,686.69 L305.19,687.36 L305.52,683.93 L305.4,683.03 L306.22,682.51 L306.14,681.52 L306.16,679.56 L306.51,679.1 L306.7,676.59 L307.5,677.5 L307.36,675.41 L307.78,675.57 L308.07,675.06 L308.12,674.93 L307.82,671.69 L308.63,669.96 L308.41,670.91 L307.68,670.66 L308.79,668.8 L308.69,668.52 L308.07,666.35 L308.6,666.57 L309.05,665.51 L308.87,664.75 L309.08,662.93 L308.63,659.26 L308.61,659.56 L308.66,660.43 L309.3,658.58 L309.47,657.77 L309.4,654.04 L309.5,655 L310.16,654.99 L310.1,653.14 L310.59,650.26 L310.98,650.01 L310.49,649.06 L311.58,647.82 L311.89,649.9 L311.89,646.53 L312.17,646.73 L312.5,645 L313.18,646.54 L313.39,645.45 L313.15,647.23 L314.22,648.5 L314.37,648.41 L314.12,650.5 L315,652.5 L315.48,652.3 L315.77,649.72 L315.85,649.44 L316.07,647.09 L316.86,646.44 L317.24,648.41 L316.37,645.53 L317.61,646.59 L317.5,643.75 L317.86,643.87 L317.99,647.62 L318.4,647.2 L318.74,648.01 L320.13,647.49 L320,650 L320.63,649.03 L320.96,648.81 L320.43,648.59 L320.98,644.1 L320.65,644.97 L321.44,643.21 L321.32,642.38 L321.78,643.36 L321.65,642 L322.5,640 L323.26,639.55 L323.73,642.99 L324.05,642.37 L323.78,643.86 L324.88,645.71 L324.48,646.14 L325,647.5 L325.36,646.53 L325.77,650.51 L326.62,651.74 L327.2,649.9 L328.14,650.43 L328.75,652.5 L328.88,653.35 L329.77,651.8 L329.74,651.24 L330.39,648.81 L330.4,645.84 L330.7,646.47 L331,646.27 L330.72,642.92 L331.25,643.75 L331.85,643.29 L331.4,645.18 L331.28,647.79 L332.18,646.9 L331.88,648.09 L331.85,649.49 L331.48,649.58 L331.61,653.59 L332.05,651.87 L332.63,656 L332.17,653.6 L331.95,654.43 L332.22,655.46 L332.19,657.16 L332.67,660.7 L332.98,659.83 L332.66,661.3 L332.71,661.58 L332.42,662.37 L333.6,662.79 L333.13,665.83 L333.65,665.2 L333.03,666.36 L333.27,668.18 L334.03,670.81 L334.02,668.53 L333.1,672.31 L333.75,672.5 L335.47,671.77 L336.25,671.25 L336.63,668.28 L336.68,671.01 L337.47,669.76 L337.93,666.35 L337.17,665.01 L337.94,666.14 L338.72,665.33 L338.65,664.53 L338.75,662.5 L339.12,661.66 L339.03,661.55 L339.68,661.05 L340.59,657.55 L340.39,656.3 L341.25,656.25 L341.7,658.01 L341.36,656.45 L342.14,659.47 L342.27,658.99 L342.81,659.1 L342.74,661.86 L343.82,663.56 L344.02,663.84 L343.53,663.89 L344.69,666.68 L344.19,664.91 L344.71,668.49 L345,668.75 L345.15,666.78 L345.7,668.45 L345.42,663.89 L345.81,664.43 L346.47,662.54 L346.86,663.71 L346.76,660.57 L347.56,660 L347.63,658.67 L347.5,658.75 L347.7,660.68 L348.33,662.34 L349.1,660.18 L349.31,661.99 L350.38,665.01 L350.29,663.68 L351.25,665 L352.16,666.27 L353.75,663.75 L353.49,660.96 L353.56,661.32 L354.73,662.28 L354.7,661.74 L355.1,658.07 L354.37,659.49 L355.21,654.88 L355.28,655.26 L355.1,654.08 L355.02,651.76 L355.32,652.16 L356.3,650.24 L356.47,649.58 L355.91,651.04 L356.25,648.75 L357.26,649.31 L356.96,650.31 L357.97,652.93 L358.38,651.54 L359.85,651.04 L360,653.75 L360,653.96 L360.54,649.85 L359.77,648.9 L360.94,648.65 L360.84,650.18 L360.46,646.64 L361.31,646.99 L360.58,646.36 L360.76,643.56 L360.49,644.45 L361.7,642.93 L361.84,639.46 L361.09,640.23 L362.07,641.11 L361.49,637.27 L361.66,637.2 L362.36,634.93 L362.32,636.12 L362.45,635.22 L362.3,632.41 L362.07,631.51 L362.73,629.35 L362.5,630 L362.55,630.04 L363.03,626.31 L363.19,627.29 L363.96,628.03 L365.04,627.09 L364.72,622.5 L364.93,623.19 L366.09,622.01 L366.25,621.25 L366.35,621.96 L367.23,624.03 L367.8,625.76 L368.11,623.9 L368.74,625.63 L368.75,627.5 L368.92,625.97 L369.22,624.26 L368.72,623.43 L368.7,624.96 L369.31,621.71 L369.18,623.36 L369.41,619.3 L369.86,619.97 L370.17,616.74 L369.65,618.59 L370.18,617.95 L369.31,614.45 L369.5,613.02 L370.61,613.57 L370.66,611.71 L370.67,611 L370.04,611.3 L370.95,607.59 L370.62,608.63 L370.26,606.6 L370.26,604.93 L370.49,605.49 L371.06,602.89 L370.39,602.36 L371.28,600.78 L370.93,599.83 L371.25,600 L372.23,601.03 L371.98,600.07 L373,602.7 L373.92,601.7 L373.97,604.95 L375,605 L375.1,603.09 L375.19,604.73 L375.4,602.14 L375.66,600.5 L376.48,601.78 L376.09,597.54 L376.73,596.52 L376.07,598.27 L376.78,596.91 L376.97,596.11 L377.24,592.19 L377.5,592.5 L377.04,591.71 L377.92,592.14 L377.38,589.99 L377.85,588.52 L377.7,586.63 L378.28,588.2 L377.91,585.46 L378.87,586.37 L378.26,582.01 L379.28,584.4 L378.85,579.71 L379.51,580.05 L379.61,579.98 L379.64,577.14 L379.72,576.39 L379.39,577.89 L380.02,574.23 L379.41,574.1 L379.9,573.03 L380,572.5 L380.08,570.6 L381.34,572.3 L381.06,570.07 L382.45,567.08 L383.08,566.51 L383.33,567.34 L383.75,566.25 L383.99,566.51 L383.83,568.65 L383.92,569.98 L384.03,570.13 L383.61,571.89 L384.26,571.39 L384.67,574.6 L384.4,573.23 L384.5,573.97 L384.17,576.3 L384.22,577.38 L384.81,576.8 L385.04,578 L385.25,581.82 L385.07,579.96 L385.15,582.28 L385.77,582.35 L385.74,586.82 L385.68,587.13 L385.12,588.83 L385.57,589.76 L386.16,587.63 L385.75,590 L386.16,590.7 L385.36,587.37 L386.25,585.58 L386.49,585.03 L386.45,583.48 L386.14,585.57 L385.85,581.92 L386.28,581.13 L385.78,579.56 L385.99,581.56 L386.68,580.38 L386.13,578.92 L386.13,576.88 L386.82,575.18 L387.17,574.94 L386.88,575.23 L386.38,574.66 L387.07,571.24 L387.34,569.71 L387.63,569.94 L386.94,569.67 L387.11,566.3 L387.53,564.77 L387.69,564.57 L387.54,566.47 L387.54,564.17 L387.5,562.5 L388.03,561.26 L388.44,562.6 L389.89,564.48 L390.52,567.08 L391.25,566.25 L391,566.22 L391.82,566.45 L391.23,568.84 L391.55,569.91 L391.88,571.87 L392.51,571.41 L392.74,573.55 L392.35,576.46 L392.67,574.37 L392.69,577.38 L393.81,579.01 L393.44,578 L393.75,580 L393.36,579.52 L394.21,577.29 L394.5,576.6 L395.04,576.7 L394.41,576.33 L394.36,573.78 L394.98,571.55 L394.76,572.65 L394.9,570.68 L396.2,567.99 L395.5,568.8 L396.07,567.87 L396.25,566.25 L396.7,563.93 L396.17,563.41 L395.94,564.74 L396.89,563.02 L396.04,562.51 L397,559.97 L397.07,558.9 L396.53,556.49 L396.61,555.2 L396.81,557.02 L397.32,556.38 L397.41,553.04 L397.3,552.7 L397.66,552.02 L397.1,551.48 L398.02,548.75 L397.99,546.92 L397.33,546.79 L397.98,548.6 L398.06,545.1 L398.3,544.09 L397.6,545.38 L398.15,543.5 L398.27,543.62 L398.11,542.04 L398.46,541.09 L398.22,539.53 L398.46,536.84 L398.1,537.08 L398.02,537.21 L398.17,532.65 L398.2,535.24 L398.75,532.5 L398.84,532.04 L398.74,532.61 L399.81,535.95 L400.1,537.34 L399.62,537.72 L400.25,539.6 L401.08,540.87 L400.45,541.75 L401.25,541.25 L401.94,541.97 L401.16,537.96 L401.36,536.21 L402.44,538.27 L402.37,537.26 L402.56,534.05 L402.12,532.24 L403.1,531.61 L402.76,531.43 L402.6,529.7 L403.1,530.48 L403.4,527.84 L403.75,527.5 L404.49,526.44 L404.53,525.83 L403.72,523.94 L404.39,524.31 L404.46,522.96 L404.87,519.94 L405,520 L405.47,517.36 L405.45,516.68 L404.5,515.81 L405.45,517.91 L404.57,514.96 L405.19,515.19 L404.85,512.98 L405.08,513.33 L405.01,512.78 L405.07,508.86 L405.61,508.99 L404.93,508.55 L404.93,508.15 L405.7,507.15 L405.5,505 L405.82,503.38 L405.71,502.5 L406.47,500.22 L406.63,498.93 L405.98,498.84 L406.98,498.75 L406.52,499.24 L406.51,496.51 L407.04,496.64 L407.47,495.17 L407.15,492.85 L407.5,492.5 L407.18,492.85 L407.88,491.42 L407.38,489.19 L408.19,488.73 L407.51,487.23 L408.51,485.32 L407.77,484.55 L408.47,485.69 L407.9,481.92 L408.11,481.58 L408.53,479.89 L408.38,478.98 L409.25,480.12 L408.29,480.03 L408.39,476.7 L409.54,477.32 L409.33,474.85 L408.77,474.64 L408.76,471.89 L409.18,470.18 L409.29,472.19 L409.5,470 L409.79,469 L409.78,467.85 L409.25,467.41 L409.62,466.96 L410.28,464.72 L409.94,465 L409.81,461.91 L410.23,463.52 L410.35,461.8 L410.51,460.72 L410.31,458.82 L409.98,458.51 L409.78,456.68 L410.66,456.85 L410.53,454 L410.34,453.82 L410.64,452.64 L410.76,453.72 L410.23,451.62 L411,449.55 L410.71,450.9 L410.23,448.17 L410.43,448.13 L411.43,446.08 L410.48,445.3 L411.07,444.87 L411.09,443.56 L411.53,442.09 L411.08,442.79 L411.25,440 L411.02,441.74 L411.35,443.05 L411.15,444.94 L411.54,442.23 L411.56,444.6 L411.37,445.67 L411.97,447.79 L412.01,447.06 L411.97,449.97 L412.94,450.11 L412.2,452.21 L412.52,450.85 L412.32,454.11 L413.25,454.54 L413,455 L413.11,454.25 L412.97,454.86 L413.27,452.56 L413.98,452.26 L413.71,449.18 L413.96,447.5 L414.45,447.42 L414.62,446.07 L414.2,445.01 L414.5,445 L414.48,444.74 L414.04,447.89 L414.45,446.98 L414.54,448.92 L414.76,450.55 L415.11,450.45 L415.5,453.42 L414.53,454.31 L415.62,455.14 L414.77,456.33 L415.43,454.06 L414.75,458.81 L415.6,457 L415,457.57 L415.23,461.11 L415.44,459.61 L416.17,463.17 L415.36,464.56 L415.96,465.13 L416.1,466.58 L416.32,467.36 L415.68,467.77 L416.15,468.97 L416.11,470.53 L416.25,470 L416.43,468.06 L416.16,466.56 L416.59,465.23 L416.68,464.58 L416.82,464.99 L417,465.45 L416.47,464.36 L417.14,462.25 L417.5,462.36 L417.27,459.68 L418.09,457.3 L417.81,458.54 L417.2,457.44 L418.1,457.73 L418,455 L417.85,457.93 L418.11,456.94 L418.63,456.14 L418.46,459.5 L418.06,461.45 L418.14,460.9 L418.38,463.08 L418.05,462.74 L418.36,464.22 L418.89,464.17 L418.94,465.61 L418.6,466.09 L418.66,469.9 L418.89,470.17 L418.55,469.27 L418.56,471.35 L419.01,473.14 L418.35,473.89 L419.41,474.18 L418.46,474.2 L418.46,474.76 L419.61,477.43 L419.34,479.16 L419.69,479.45 L419.39,480.51 L419.54,481.39 L419.57,480.85 L419.6,482.83 L419.77,482.41 L419.12,483.15 L419.88,487.66 L419.79,486.48 L420.04,489.15 L419.77,488.03 L419.51,489.69 L419.58,490.72 L420.02,493.74 L419.37,493.27 L419.4,492.48 L420,495 L420.45,494.3 L420.66,492.79 L419.66,491.55 L420.43,492.75 L420.98,489.9 L420.37,487.41 L420.73,486.85 L420.22,485.06 L420.13,486.74 L420.35,486.87 L420.39,485.48 L420.51,481.07 L421.3,480.97 L421.4,479.75 L420.66,481.1 L421.54,480.42 L421.64,476.34 L421.59,477.84 L421.47,477.73 L421.3,476.86 L421.94,472.05 L421.18,473.6 L422.22,470.32 L421.69,471.92 L422,470 L421.67,472.44 L422.12,470.24 L422.05,473.3 L422.21,474.71 L421.92,476.19 L422.26,476.58 L422.65,476.67 L422.42,479.14 L423.16,480.14 L422.78,479.17 L422.24,482.9 L423.08,483.31 L422.71,483.42 L423.55,485.33 L423.17,484.23 L423.03,487.55 L423.04,487.74 L423.38,489.58 L423.7,488.13 L422.8,489.05 L423.38,491.35 L423.92,493.55 L423.06,494.33 L424.05,495.47 L423.75,495 L423.88,493.1 L424.26,494.23 L424.1,493.65 L423.74,489.34 L424.03,491.19 L423.65,490 L424.57,486.94 L424.23,487.71 L424.1,484.83 L423.89,486 L424.58,483.84 L423.78,484.23 L424.65,480.93 L424.46,482.59 L424.87,480.09 L424.42,479.36 L424.12,476.77 L424.15,477.8 L424.42,476.26 L424.51,475.07 L424.25,472.18 L425.31,472.5 L424.28,472.53 L425.14,469.62 L424.96,469.38 L424.91,467.08 L424.37,469.96 L425.41,466.95 L425.1,465.05 L425.4,464.7 L425.64,465.07 L425.53,464.85 L424.9,460.15 L424.88,459.72 L424.78,458.2 L425.39,460.48 L425.32,459.79 L425.9,455.26 L425.57,455.59 L425.5,455 L425.14,457.84 L425.41,457.26 L425.97,459.83 L426.1,458.57 L425.94,458.64 L426.66,462.97 L425.87,460.15 L426.01,462.41 L426.88,465.62 L426.9,463.19 L426.94,466.84 L426.88,468.94 L426.27,466.58 L427.21,470.76 L427.21,469.2 L427.21,472.03 L426.73,471.3 L427.01,471.5 L427.38,472.67 L427.5,475 L427.26,472.57 L427.85,471.05 L427.97,470.78 L427.22,472.71 L427.51,471.74 L428.36,470.55 L427.56,467.79 L427.58,468.72 L428.54,466.51 L428.14,464.36 L428.66,463.91 L428.49,461.57 L428.08,460.23 L428.74,461.21 L428.12,461.48 L428.34,458.65 L428.28,457.08 L429.17,456.34 L428.43,455.96 L428.68,456.61 L428.51,455.91 L428.51,454.58 L429.31,450.84 L429.15,450.14 L429.25,450 L429.09,447.81 L429.35,449.96 L430.25,448.7 L429.3,445.16 L430.39,443.23 L430.32,443.17 L430.76,441.06 L430.69,441.36 L430.02,439.01 L430.98,440.11 L430.34,438.74 L431.34,436.87 L431.07,435.55 L430.73,437.08 L431.25,435 L431.58,432.76 L430.89,431.29 L431.6,431.89 L431.27,429.71 L431.75,430.68 L432.07,429.16 L431.41,426.06 L432.12,426.4 L432.18,423.96 L432.36,424.05 L432.47,425.13 L432.12,420.71 L432.7,421.52 L432.73,419.65 L431.98,420.89 L432.27,417.18 L432.5,417.5 L433.18,418.71 L433.57,419.25 L435,420 L435.06,419.06 L434.79,418.86 L435.75,418.46 L435.29,416.84 L435.48,416.01 L435.22,415.49 L436.42,412.98 L436.02,412.12 L436.17,409.08 L436.81,408.89 L435.99,407.41 L436.2,409.27 L436.06,405.39 L436.99,404.78 L436.3,405.4 L437.09,404.09 L437.37,401.41 L437.69,402.87 L436.83,399.49 L437.5,400 L437.61,399 L437.47,396.49 L437.74,395.55 L438.08,397.44 L437.66,395.29 L438.5,392.66 L438.71,394.75 L438.3,391.68 L438.96,391.1 L438.54,391.77 L439.12,388.35 L438.59,387.34 L438.94,388.92 L439.5,387.65 L439.25,385 L439.73,387.39 L438.91,387.07 L440.1,389.74 L439.35,388.69 L439.91,389.46 L439.89,389.28 L439.87,392.02 L439.47,391.56 L440.71,395.11 L440.77,395.53 L440.72,397.54 L440.91,395.14 L440.72,397.06 L440.86,398.09 L440.8,401.7 L441,400 L440.97,401.73 L441.59,402.15 L440.92,404.59 L441.25,405 L440.86,406.4 L441.93,407.09 L441.17,407.92 L441.55,407.67 L441.12,408.62 L441.39,410.74 L441.45,411.1 L441.27,413.33 L442.24,414.61 L441.98,415.79 L441.6,417.05 L441.98,417.41 L442.23,418.12 L441.93,418.23 L441.89,420.33 L442.15,421.64 L441.77,421.73 L442.85,422.29 L442.55,424.32 L442.29,427.32 L442.37,427.48 L442.27,425.67 L443.19,428.19 L442.28,429 L442.8,431.4 L442.47,430.38 L443,432.5 L443.62,432.45 L442.72,429.85 L443.02,430.2 L443.41,429.9 L443.72,427.57 L443.69,427.47 L443.78,425.4 L443.88,425.33 L444.1,422.01 L444.11,420.52 L444.05,421.84 L443.8,422.35 L443.95,419.17 L444.27,419.99 L444.13,417.02 L444.01,416.33 L444.4,414.67 L444.07,414.72 L444.13,412.79 L444.68,413.9 L444.4,411.28 L444.09,409.72 L444.11,409.8 L444.7,406.85 L445.17,406.8 L445.15,407.85 L445.35,404.32 L444.78,406.14 L444.35,401.69 L445,402.5 L445.2,403.52 L445.74,405.65 L445.4,407.58 L445.49,406.69 L445.81,407.21 L445.54,409.06 L445.64,411.5 L446.15,410.84 L445.58,411.26 L446.06,413.04 L446.38,415.34 L446.97,414.8 L446.46,416.38 L447.24,416.28 L446.8,419.2 L446.49,418.24 L447,420 L447.64,420.3 L447.16,416.44 L447.68,417.76 L447.66,417.96 L447.82,414.68 L447.01,413.16 L447.5,413.02 L447.19,410.73 L447.79,411.41 L447.52,411.97 L447.93,407.17 L447.73,409.15 L447.68,407.76 L447.38,405.22 L448.46,405.34 L448.32,402.79 L448.19,403.21 L447.98,402.59 L448.37,402.99 L448.49,399.64 L448.02,397.63 L448.85,396.43 L448.13,395.68 L448.71,397.29 L448.75,395 L449,395.23 L448.46,391.05 L449.42,391.29 L449.48,390.42 L448.94,389.07 L448.97,390.62 L449.67,387.4 L449.62,386.54 L449.27,387.56 L450.02,386.84 L449.96,384.48 L449.85,381.18 L450.78,383.42 L450.16,382.6 L450.5,380 L451.18,378.21 L451.22,379.84 L451.39,378.8 L451.39,375.56 L452,375 L452.35,374.89 L451.95,378.5 L452.24,379.17 L452.04,377.69 L452.27,378.75 L453.09,380.16 L452.69,380.46 L452.74,382.54 L452.67,382.26 L452.42,386.3 L452.78,384.98 L452.68,386.13 L452.82,386.14 L453.42,388.37 L452.9,390.82 L452.91,390.08 L453.89,390.51 L453.51,394.35 L454.03,392.64 L453.75,395 L453.72,394.85 L453.89,394.75 L453.84,393.68 L454.34,389.74 L454.42,388.32 L454.87,387.79 L455.25,388.06 L454.76,385.65 L455.19,384.48 L455.66,383.07 L455.37,383.71 L455.5,382.5 L455.62,384.59 L456.16,385.13 L456.78,384.74 L456.97,384.84 L457.5,387.5 L457.23,389.93 L457.52,390.21 L457.38,390.84 L457.8,391.62 L457.84,390.91 L457.98,392.58 L457.87,395.57 L458.18,395.35 L459.05,397.86 L459.14,399.24 L458.35,397.93 L458.35,400.57 L459.23,400.29 L459.04,402.55 L459.5,401.93 L459.8,403.38 L459.5,405 L459.77,402.73 L459.27,404.65 L460.13,402.85 L459.42,399.16 L459.68,398.79 L459.96,398.52 L459.76,397.24 L460.6,395.72 L460.96,396.28 L460.93,394.02 L460.71,394.74 L460.72,391 L461.42,393.11 L460.88,389.17 L461.25,390 L461.89,389.34 L461.14,386.79 L461.44,387.88 L461.78,387.28 L462.64,382.88 L462.8,383.01 L463.08,383.66 L463,381.25 L463.07,380.65 L464.2,383.03 L464.52,385.14 L464.62,386.74 L464.82,386.27 L465,387.5 L464.75,387.22 L465.49,385.4 L466.37,382.8 L466.46,381.39 L466.67,383.37 L466.43,381.26 L467,380 L467.81,381.62 L467.55,381.14 L467.22,382.65 L467.89,383.09 L468.02,383.9 L468.75,387.11 L468.75,387.5 L468.55,385.47 L469,385.28 L469.62,383.91 L468.98,385.04 L468.9,382.75 L469.25,382.76 L469.62,381.54 L469.29,380.17 L469.92,378.34 L470.24,378.82 L469.57,375.66 L469.98,374.33 L469.74,373.62 L470.02,374.31 L470.5,372.5 L470.74,369.95 L470.89,370.37 L471.24,368.17 L471.19,366.54 L472,367.5 L472.77,369.5 L471.85,370.37 L473.1,370.75 L472.23,371.46 L472.8,371.26 L473.1,371.53 L473.73,375.08 L473.55,377.24 L473.76,375.51 L473.75,377.5 L473.52,377.08 L473.34,380.64 L474.4,379.75 L473.69,382.14 L474.56,384.32 L473.83,384.77 L474.7,385.63 L474.18,384.42 L474.86,385.99 L474.39,387.93 L474.47,390.08 L474.39,387.94 L474.86,391.31 L475.25,392.64 L475.43,394.62 L475.02,393.86 L474.69,394.08 L475.28,394.23 L475.49,395.59 L475.27,399.83 L474.93,397.14 L475.5,400 L475.55,399.79 L476,400.07 L476.26,404.51 L476.31,403.82 L475.83,405.79 L476.22,405.86 L476.13,406.96 L476.64,409.54 L477.04,407.92 L476.43,410.07 L476.87,410.72 L476.55,410.69 L476.82,413.22 L477.71,416.05 L477.7,417.34 L477.94,416.95 L477.5,417.5 L477.96,414.72 L477.89,415.89 L477.53,414.72 L478.41,413.33 L478.13,411.58 L477.86,412.9 L477.57,409.1 L478.44,409.11 L477.82,408.94 L478.26,407.6 L478.4,406.37 L478.67,404.81 L478.22,402.93 L479.24,403.37 L478.4,403.61 L478.66,399.52 L479.08,399.12 L479.12,399.31 L478.9,398.36 L478.85,397.1 L479.52,394.34 L479.5,395 L479.55,392.27 L479.75,394.41 L480.04,392.79 L480.44,389.37 L480.88,390.77 L479.98,390.18 L480.48,386.53 L481.32,387.07 L481.26,384.34 L481.42,383 L481.25,383.75 L481.13,384.3 L481.05,386.24 L481.48,386.12 L482.27,387.68 L482.68,389.52 L482.85,390.35 L483.1,392.64 L482.39,393.19 L482.79,394.32 L483.39,395.63 L482.91,394.88 L483.84,398.23 L483.75,397.5 L484.18,394.67 L484.21,393.9 L484.31,395.71 L483.95,395.2 L484.79,391.52 L484.38,391.29 L485.32,390.83 L484.62,387.58 L484.78,389.7 L485.04,387.72 L485.33,387.25 L485.61,384.08 L486.37,384.65 L486.31,384.73 L486.25,382.5 L488,382.5 L488.63,381.58 L487.99,383.15 L488.27,387.06 L488.72,384.73 L488.07,388.89 L488.76,388.21 L488.61,388.29 L489.14,390.26 L489.27,392.15 L488.4,392.04 L488.66,395.33 L489.2,392.95 L488.79,395.24 L489.23,397.13 L489.23,397.26 L488.86,399.18 L489.35,397.97 L489.59,402.85 L489.18,400.52 L490.02,402.05 L489.64,403.98 L490,405 L489.85,406.28 L490.3,408.83 L490.99,406.14 L490.61,410.08 L491.11,411.1 L490.96,411.54 L490.77,411.13 L491.42,414.49 L491.73,414.73 L491.1,416.05 L491.75,416.04 L491.76,416.4 L491.79,417.62 L491.34,418.35 L492,420 L491.86,422.95 L492.12,421.47 L491.9,421.94 L492.1,422.54 L491.76,426.48 L492.36,425.78 L492.57,426.21 L492.16,426.27 L492.39,428.23 L492.97,430.21 L493.29,430.36 L493.35,432.33 L492.41,431.71 L493.08,435.95 L492.88,436.1 L493.03,437.47 L492.67,436.94 L493.74,437.1 L493.04,437.09 L493,439.07 L493.72,439.87 L493.42,440.8 L493.73,444.46 L493.86,442.79 L493.75,445 L494.07,447.85 L493.95,445.32 L494.25,449.5 L493.73,447.55 L493.58,450.15 L494.45,451.56 L494.55,450.85 L493.88,454 L494.3,453.62 L494.38,454.35 L493.68,455.66 L493.7,457.51 L494.09,457.98 L494.45,458.03 L494.33,458.05 L494.93,461.26 L495.04,460.22 L494.64,463.9 L494.34,462.37 L494.17,463.57 L494.95,464.36 L495.04,466.69 L494.75,468.35 L494.82,469.63 L494.91,469.32 L495.12,470.03 L495.13,473.05 L495.25,472.24 L495.29,475.91 L495,475 L495.01,473.11 L495.16,474.76 L494.76,470.04 L495.24,471.62 L495.66,469.45 L495.99,467.91 L495.77,466.36 L494.97,465.54 L495.07,466.01 L495.73,463.73 L496.26,463.46 L495.38,461.71 L496.15,463.69 L495.53,459.12 L496.33,458.97 L496.65,459 L496.3,457.38 L496.56,456.84 L496.06,457.61 L495.86,455.93 L495.88,454.58 L496.35,454.46 L496.01,452.26 L496.49,452.68 L497.2,450.51 L496.4,448.01 L496.51,447.74 L496.54,445.81 L497.24,446.57 L497,445 L496.83,447.98 L496.8,447.28 L496.8,449.45 L497.72,448.07 L497.65,451.29 L497.16,450.33 L497.47,453.56 L497.15,453.73 L497.75,453.81 L497.8,456.53 L497.42,457.53 L497.67,458.12 L498.35,456.73 L498.42,460.98 L497.81,458.1 L497.65,462.9 L497.6,463.65 L497.84,463.94 L497.85,462.67 L498.62,463.36 L498.28,467.67 L498.8,468.53 L499.19,466.13 L498.36,470.17 L498.75,470 L499.06,467.15 L498.93,466.93 L498.93,465.42 L498.52,467.96 L498.97,466.51 L498.82,463.95 L498.93,462.71 L499.06,462.74 L499.12,461.95 L499.63,458.45 L499.54,458.99 L500.3,457.4 L499.55,458.87 L500.43,456.93 L499.79,453.71 L499.87,452.28 L499.69,453.04 L500.21,452.23 L500.25,449.04 L500.5,450 L501.13,451.61 L501.35,452.2 L501.93,454.93 L502.55,454.87 L502.5,455 L502.51,455.27 L502.67,458.89 L502.76,457.54 L502.93,457.57 L503.76,458.02 L503.43,462.71 L503.14,462.44 L503.42,461.96 L503.34,462.46 L504.25,466.14 L504.46,464.2 L504.33,466.3 L504.41,468.2 L504.15,470.89 L504.5,470 L503.98,471.98 L505.09,472.04 L504.86,474.98 L504.51,474.52 L505.21,474.52 L505.25,475.57 L505.11,477.45 L505.38,477.29 L505.4,479.17 L505,480.45 L505.13,482.63 L505.47,482.89 L505.61,482.91 L505.33,482.57 L505.75,485 L506.32,484.11 L505.9,483.11 L506.3,480.95 L505.59,482.29 L505.99,480.56 L506.49,480.58 L506.6,476.17 L506.07,478.33 L506.66,474.49 L505.92,474.01 L505.92,473.43 L506.81,473.09 L506.45,470.35 L506.44,472.99 L506.86,469.8 L506.66,470.19 L507.05,466.6 L507.02,466.47 L506.88,464.95 L506.76,464.36 L506.83,462.07 L506.67,463.28 L506.56,460.71 L507.41,460.1 L507,458.97 L507.67,457.37 L507.49,459.44 L507.03,456.69 L507.79,456.47 L507.5,455 L507.53,452.15 L507.79,452.42 L508.3,451.11 L508.12,451.5 L508.78,449.3 L508.45,449.18 L509.28,446.61 L509.52,447.67 L508.98,446.46 L509.11,443.06 L509.5,443.75 L509.97,444.29 L509.85,445.78 L510.46,447.85 L509.57,448.21 L510.25,448.71 L510.86,449.55 L510.58,452.47 L510.7,451.9 L510.95,454.25 L511.3,454.94 L511.25,455 L511.22,454.16 L511.64,457.22 L511.84,459.08 L511.14,457.88 L511.18,461.27 L511.3,459.35 L512.17,462.26 L511.42,463.72 L512.29,463.93 L511.59,465.76 L512.11,466.34 L512.9,468.27 L512.83,466.58 L512.28,469.07 L511.97,471.95 L512.38,470.05 L512.51,471.02 L513.26,473.22 L512.93,473.68 L513,475 L512.55,475.24 L513.62,478.25 L513.7,477.1 L513.01,477.3 L513.5,479.61 L513.5,481.09 L513.74,481.62 L514.09,481.98 L514.32,484.43 L513.37,484.48 L514.04,485.89 L514.17,486.57 L513.91,489.48 L514.02,490.16 L514.73,490.71 L514.4,493.1 L514.48,493.9 L514.11,493.14 L514.89,492.63 L515.25,493.74 L515.02,495.2 L515,497.5 L515.58,496.73 L515.51,495.46 L515.43,495.14 L515.05,492.27 L515.78,490.99 L515.95,490.22 L515.04,488.75 L515.93,491.16 L515.56,488.97 L515.45,488.94 L516.04,484.92 L515.36,486.06 L515.41,485.6 L515.79,482.17 L516.21,481.5 L516.26,479.82 L516.75,479.48 L516.74,477.77 L516.77,480.07 L516.35,475.26 L516.41,476.67 L516.3,475.28 L516.22,473.93 L517.05,472.77 L517.07,470.49 L517.32,469.51 L517,470 L517.64,472.98 L517.79,472.11 L517.15,472.39 L517.83,473.99 L518.18,473.37 L517.78,477.46 L518.05,477.16 L517.57,476.56 L517.93,480.57 L518.75,478.91 L518.98,479.13 L518.72,483.87 L518.55,484.78 L519.05,482.2 L519,485 L518.9,483.8 L518.9,483.97 L518.91,483.15 L519.16,479.28 L519.57,478.38 L519.66,480.15 L519.81,477.85 L519.24,477.05 L519.42,476.59 L519.56,475.31 L519.92,473.5 L520.4,471.66 L519.9,473.77 L520.2,472.37 L520.95,469.92 L520.18,467.38 L521.15,466.47 L520.8,467.14 L520.44,465.87 L521,465 L520.76,466.18 L521.34,466.55 L521.14,467.74 L521.31,467.68 L521.52,471.69 L522,472.81 L521.58,474.06 L522.32,474.5 L522.58,475.13 L522.34,476.42 L522.42,475.52 L523,477.5 L522.72,476 L523.59,474.52 L524.33,472.62 L524.24,472.15 L524.54,473.28 L524.97,469.32 L525,470 L524.94,471.4 L526.08,470.16 L525.89,473.77 L526.38,473.37 L526.62,474.85 L527.01,474.04 L527.28,476.65 L526.89,476.35 L526.94,479.94 L527.5,480 L528.21,479.6 L528.31,480.56 L528.64,481.88 L529.3,485.9 L530,485 L530.8,487.17 L530.38,486.99 L530.94,489.63 L531.1,489.55 L530.64,490.5 L531.61,492.15 L530.91,492.87 L531.42,491.65 L532.36,494.69 L532,495 L532.43,492.54 L532.66,494.75 L532.89,492.98 L532.93,492.21 L532.78,489.74 L533.19,490.14 L533.38,487.2 L533.62,487.13 L533.74,484.46 L533.9,486.15 L533.17,485.35 L533.28,481.79 L533.68,480.95 L533.86,482.63 L534,480 L534.3,479.84 L534.02,479.14 L534.58,477.73 L534.83,477.3 L534.26,473.35 L534.63,475.35 L534.33,473.38 L535,473.17 L534.08,470.96 L534.17,468.44 L535.2,468.67 L535.03,467.83 L534.78,465.85 L534.87,467.38 L535.27,464.17 L534.71,463.08 L535.52,462.77 L535.54,463.23 L534.97,461.73 L534.95,461.29 L535.2,458.09 L536.2,457.45 L535.39,458.56 L535.93,457.58 L535.75,455 L536.5,454.03 L536.61,451.76 L536.5,450.65 L536.21,449 L536.25,450 L536.07,450.74 L536.61,449.15 L536.58,446.28 L536.6,446.04 L537.73,444.85 L537.35,445.46 L538.18,443.37 L537.41,442.16 L538.06,442.46 L538.17,440.23 L538.7,438.05 L538.75,437.5 L538.92,439.24 L539.53,439.55 L539.03,442.49 L538.81,442.96 L539.71,442.88 L539.57,444.68 L540.25,445.62 L540.23,443.88 L539.86,445.31 L540.76,449.36 L539.94,449.17 L540.61,448.04 L540.53,451.87 L540.98,451.04 L541.27,452.11 L541.16,453.65 L541.25,455 L541.95,454.6 L541.87,453.71 L541.48,453.85 L542,451.76 L541.61,448.65 L542.09,450.3 L542.48,447.39 L541.82,447.06 L542.83,444.65 L542.79,443.68 L542.4,442.21 L542.51,442.53 L543.44,443.85 L542.62,440.24 L543.66,438.79 L543.04,438.75 L542.91,437.04 L543.37,436.54 L544.18,435.07 L543.75,435 L543.56,435.64 L544.02,434.35 L544.41,433.11 L544.19,429.61 L544.89,429.88 L544.82,429.68 L545.22,427.1 L544.92,428.67 L545.29,425.15 L545.57,424.04 L545.91,422.17 L546.14,423.27 L545.74,423.76 L545.8,419.97 L546.25,420 L546.09,421.27 L547.27,422.86 L547.22,424.45 L547.21,423.51 L548.21,427.23 L548.55,427.2 L548.75,427.5 L549.25,426.08 L549.61,426.47 L549.06,424.07 L549.78,422.9 L549.21,423.99 L549.79,421.58 L550.12,422.11 L549.64,418.85 L549.73,418.15 L550.42,418.91 L550.78,416.81 L550.63,415.79 L550.65,415.88 L551.43,414.85 L551.25,412.5 L551.46,412.25 L552.8,410.63 L553.6,411.28 L553.75,408.75 L554.2,411.06 L554.25,412.31 L553.78,412.63 L554.63,413.29 L554.28,412.13 L554.83,416.18 L554.59,414.76 L554.69,415.31 L555.39,419.85 L555.7,418.42 L555.5,420 L556.03,417.22 L556.48,417.16 L555.76,417.3 L556.21,414.81 L556.4,414.43 L557.28,414.8 L557.5,412.5 L557.78,414.64 L558.7,413.06 L560,415 L560.35,413.3 L560.18,413.16 L560.24,413 L560.42,412.13 L561.33,409.86 L560.59,409.77 L560.78,407.61 L561.45,404.79 L561.89,406.38 L562.02,404.02 L562.13,403.72 L561.98,403.78 L562.5,401.25 L563.19,403.48 L563.24,402.59 L563.37,402.57 L562.85,403.83 L562.92,407.04 L563.32,407.14 L562.98,407.09 L563.15,408.48 L562.99,411.3 L563.47,411.12 L563.18,413.2 L563.28,412.46 L563.81,415.21 L564.4,416.41 L564.47,418.11 L564.29,418.32 L563.59,417.27 L563.63,420.92 L564.58,421 L564.12,420.91 L564.5,422.5 L564.68,423.86 L566.26,423.39 L566.25,425 L565.93,422.68 L566.53,424.55 L567.3,421.75 L566.68,419.34 L566.97,421 L567.58,420.83 L568.33,419.02 L568.04,418.11 L567.85,414.23 L568.6,414.8 L568.75,413.75 L568.56,413.77 L568.49,417.42 L569.47,418.58 L569.95,417.56 L569.81,418.36 L570.06,421.21 L569.4,418.91 L569.66,422.22 L570.01,420.93 L570.71,425.05 L570.43,423.09 L571.09,426.07 L570.27,426.25 L571.09,429.51 L571.08,429.54 L571.25,430 L571,430.02 L571.95,431.61 L571.09,433.49 L571.22,432.97 L571.72,435.55 L572.04,437.08 L571.91,435.56 L572.35,436.55 L572.15,438.98 L572.5,441.27 L572.08,442.06 L572.5,442.5 L572.94,441.35 L572.49,442.05 L573.24,437.63 L573.02,440.28 L573.22,436.86 L574.1,437.55 L574.12,436.17 L573.61,432.54 L574.95,434.34 L574.03,430.28 L574.48,432.76 L575,430 L574.78,431.71 L575.74,432.6 L575.84,432.12 L575.04,432.16 L575.88,433.53 L576.25,436.98 L575.42,438.39 L575.5,438.23 L575.55,440.35 L576.6,441.89 L576.25,441.25 L575.77,441.64 L576.56,440.51 L576.61,438.69 L576.84,438.4 L576.34,434.41 L577.02,434.34 L576.96,432.2 L577.5,431.25 L577.72,433.39 L577.39,429.62 L577.74,428.95 L577.59,427.55 L578.37,428.28 L577.74,425.46 L578.31,427.47 L578.57,423.47 L578.11,423.26 L578.71,421.63 L578.64,423.94 L578.95,419.04 L578.75,420 L578.33,417.44 L579.17,418.36 L579.05,416.77 L579.01,416.37 L579.39,416.57 L579.58,415.08 L579.89,414.22 L579.75,409.97 L579.8,412.23 L579.59,411.33 L579.38,410.57 L579.79,408.6 L579.66,405.96 L579.86,405.04 L579.65,404.49 L580.81,404.32 L580.84,403.73 L580.82,403.64 L580.81,399.74 L580.3,399.28 L580.12,397.53 L581.25,399.28 L580.67,397.66 L581.3,397.11 L581.42,394.67 L580.68,394.82 L581.25,392.5 L581.86,392.17 L582.76,390.98 L583.75,390 L584.48,387.64 L584.12,388.6 L584.3,388.75 L584.31,387.66 L584.81,386.87 L584.26,382.85 L584.66,384.63 L584.5,381.04 L585.51,382.96 L585.03,379.75 L585.81,379.76 L586.05,379.01 L585.61,376.03 L585.52,376.76 L586.25,375 L586.09,372.98 L587.19,373.46 L586.94,372.45 L587.14,371.55 L586.98,367.97 L586.88,366.71 L587.43,366.17 L587.32,366.51 L588.54,366.23 L587.9,365.5 L587.98,361.77 L588.32,361.94 L588.75,361.25 L589.13,362.05 L589.34,361.66 L589.74,363.67 L589.77,363.44 L589.93,365.23 L590.11,368.56 L590.05,367.47 L589.41,368.13 L590.64,369.02 L590.5,371.75 L590.66,371.14 L590.2,371.83 L591.36,373.99 L591.12,375.75 L590.76,374.74 L591.25,377.5 L591.17,377.91 L591.81,377.35 L592.59,375.39 L592.82,374.65 L593.75,372.5 L593.7,372.96 L594.28,372.95 L594.2,376.68 L594.49,376.02 L595.32,376.4 L594.88,377.38 L595.36,378.96 L595.92,380.39 L596.44,379.7 L596.25,382.5 L596.65,382.8 L596.35,378.53 L596.8,377.84 L597.04,379.18 L596.8,375.76 L597.48,374.95 L597.39,374.97 L597.46,372.44 L597.96,373 L598.86,372.3 L598.03,369.93 L598.75,370 L599.29,369.21 L599.69,369.77 L599.93,365.32 L600.28,365.93 L599.69,363.47 L600.69,362.6 L600,361.77 L601.26,361.51 L601.28,358.92 L601.19,358.85 L601.15,359.19 L601.75,357.5 L601.75,357.02 L602.66,359.51 L601.87,358.67 L602.6,361.73 L602.01,362.59 L603.04,363.9 L602.6,364.79 L603.21,366.44 L602.82,368.09 L603.95,368.88 L604.01,368.43 L603.75,370 L604.48,367.66 L603.92,368.25 L604.98,365.11 L604.41,363.86 L604.93,363.2 L604.88,364.57 L605.5,362.5 L605.7,365.26 L605.58,365.22 L605.22,367.29 L605.58,366.41 L606.01,369.29 L606.09,370.47 L606.35,368.37 L606.7,369.31 L607,371.33 L606.17,374.34 L606.39,373.13 L606.51,375.17 L606.23,375 L606.49,377.81 L606.4,377.93 L606.81,378.32 L607.27,380.35 L606.87,379.46 L606.94,383.34 L607.5,382.5 L607.36,382.12 L608.1,384.97 L608.82,383.94 L608.32,385.46 L609.03,387.67 L609.11,390.48 L609.5,390 L609.94,390.37 L610.55,386.93 L610.78,386.42 L609.96,387.37 L610.27,382.71 L610.75,382.73 L611.25,382.5 L611.98,385.02 L611.49,384.7 L612.17,386.85 L612.1,386.72 L611.62,386.68 L612.44,389.1 L612.78,391.39 L613.14,389.6 L612.24,393.47 L613,391.64 L613.31,392.98 L613.25,395 L613.08,393.42 L613.57,393.63 L613.18,392.84 L613.98,390.72 L614.19,390.99 L613.54,388.65 L614.48,388.54 L614.59,385.39 L615.11,386.77 L614.39,384.31 L615.4,382.37 L615,382.5 L615.06,385.39 L615.81,383.51 L615.78,385.06 L615.86,387.73 L615.39,386.6 L615.66,387.81 L615.61,388.34 L616.22,390.52 L615.99,392.2 L617.2,393.22 L616.66,394.78 L617,395 L616.99,394.7 L617.12,395.07 L617.42,396.64 L617.12,400.85 L617.67,401.34 L617.59,401.54 L617.74,403.87 L617.2,404.06 L617.39,403.02 L618.09,405.4 L618.19,407.5 L617.95,405.79 L617.33,408.14 L618.25,408.09 L617.53,408.02 L617.73,411.78 L617.59,410.92 L617.98,413.84 L618.91,412.08 L617.94,416.74 L619.03,414.59 L618.34,417.09 L618.39,417.67 L618.65,418.03 L618.75,420 L618.42,417.29 L618.76,416.28 L619.52,417.66 L619.3,417 L620.07,414.16 L619.99,412.5 L620.72,412.95 L619.88,410.28 L620.86,410.17 L621.09,408.5 L621.4,409.75 L621.25,407.5 L621.12,408.92 L621.59,410.47 L622.69,411.88 L622.36,410.16 L623.23,413.12 L622.96,412.7 L623.75,415 L624.13,414.4 L624.47,415.91 L624.29,417.61 L624.9,419.79 L624.58,420.76 L625.08,420 L625.86,422.57 L626.11,424.39 L626.25,423.75 L626.05,421.98 L626.76,420.76 L626.31,419.61 L627.2,421 L627.29,420.51 L627.54,416.89 L627.12,417.53 L626.97,416.06 L627.16,412.81 L627.83,412.2 L628.49,414.09 L628.08,410.35 L627.82,410.57 L628.46,408.98 L628.85,408.63 L628.75,407.5 L629.71,404.99 L629.48,405.17 L630.61,403.7 L631.25,403.75 L631.64,403.7 L631.42,405.77 L632.08,408 L631.87,407.77 L632.72,410.77 L632.55,408.52 L632.54,411.7 L632.52,410.36 L633.56,414.91 L632.73,414.19 L633.51,414.58 L633.04,417.45 L633.75,417.5 L634.91,418.08 L634.92,418.74 L636.25,420 L635.91,422.88 L636.01,421.21 L637.01,421.63 L636.37,422.4 L636.58,425.27 L637.53,424.85 L636.89,428.27 L637.34,427.59 L637.12,428.24 L638.29,428.76 L637.58,432.29 L638.48,433.97 L638.13,435.21 L638.43,433.57 L638.41,436.31 L638.88,434.99 L638.75,437.5 L638.63,440.33 L638.78,440.75 L639.31,439.49 L639.46,441.38 L640,442.5 L640.76,440.05 L640.76,439.7 L640.11,440.35 L640.48,437.08 L640.74,438.58 L641.44,436.55 L640.58,436.26 L641.46,435.76 L642.04,432.43 L642.08,433.36 L641.55,430.51 L642,430 L642.35,430.41 L642.85,430.44 L643.17,434.64 L643.89,434.54 L644.5,435 L646.21,436.02 L647,435 L646.74,437.7 L647.46,439.01 L647.41,439.09 L647.56,438.1 L647.41,439.64 L647.68,439.67 L647.37,441.5 L647.75,442.56 L647.82,445.6 L647.91,443.78 L648.03,447.23 L647.76,447.88 L647.05,449.78 L647.69,449.14 L647.49,451.47 L648.07,452.84 L647.43,451.75 L647.52,451.81 L647.66,452.54 L648.26,454.36 L647.44,454.75 L648,457.5 L648.38,457.32 L648.13,459.17 L648.63,462.4 L648.12,462.15 L648.91,462.53 L649.01,464.61 L648.39,466.2 L648.79,464.16 L648.9,468.08 L648.9,467.73 L648.87,470.35 L649.26,468.68 L648.98,470.34 L649.79,472.7 L648.87,474.6 L648.85,474.33 L649.5,475 L649.52,474.84 L649.62,471.31 L649.84,473.19 L650.26,470.31 L649.68,470.83 L650.48,467.7 L650.68,469.76 L650.24,466.29 L650.68,467.45 L650.17,463.91 L650.43,464.61 L650.36,462.83 L650.84,462.29 L650.51,462.41 L651.64,459.8 L651.5,457.26 L651.25,457.5 L652.58,458.54 L653.23,460.64 L653.75,460 L653.93,460.7 L654.1,456.09 L654.8,458.59 L655.63,457.82 L655.5,455 L655.61,455.73 L655.77,451.57 L655.96,453.21 L655.81,451.41 L655.71,449.1 L656,449.05 L656.16,446.37 L655.71,446.36 L656.66,446.99 L656.18,444.02 L656.62,442.7 L656.82,444.62 L656.44,442.34 L657.16,442 L657.25,440.84 L656.83,440.35 L657.71,436.21 L657.83,436.77 L656.9,434.28 L657.5,435 L658.11,434.62 L657.57,432.65 L658.42,433.71 L658.3,431.69 L658.44,428.33 L658.59,428.08 L659.39,426.56 L659.5,426.25 L659.25,426.15 L659.32,427.07 L659.76,429.34 L659.76,430.26 L660.22,433.26 L660.44,434.17 L660.58,432.2 L660.88,433.01 L660.53,433.75 L661.33,438.35 L661.25,437.5 L661.31,435.92 L661.51,434.91 L662,434.07 L661.53,434.96 L662.21,430.53 L662.72,432.41 L662.3,431.02 L663.15,429.11 L662.74,427.69 L663,427.5 L663.18,429.18 L663.52,431.36 L662.93,430.05 L663.89,432.78 L663.7,433.36 L663.51,435.46 L663.88,434.32 L663.56,434.2 L664.54,437.97 L663.61,437.09 L664.27,438.81 L664.25,441.43 L664.35,441.01 L665.16,442.47 L664.74,442.27 L664.75,444.41 L665,445 L665.54,445.04 L665.24,446.55 L665.44,449.65 L665.85,448.1 L665.8,451.29 L665.79,451.76 L665.83,450.77 L666.07,454.22 L666.38,452.91 L667,455 L666.6,455.11 L667.55,458 L667.9,459.96 L667.6,460.92 L667.18,461.99 L667.73,460.12 L668.24,463.84 L667.94,461.83 L668.66,465.53 L668.46,467.48 L667.93,464.86 L668.16,465.78 L668.75,468.75 L669.1,468.23 L668.48,465.31 L668.66,466.06 L669.35,466.46 L669.07,465.46 L669.25,462.06 L669.13,460.39 L670.1,462.4 L669.87,458.08 L669.34,456.94 L669.64,458.24 L669.39,456.37 L670.23,453.34 L670.04,455.33 L670.3,452.93 L670.76,452.49 L670.21,450.63 L670.5,450 L671.13,450.43 L671.19,448.22 L670.36,445.66 L670.74,446.72 L670.38,446.15 L671.41,443.99 L670.57,444.11 L671.16,442.58 L671.44,441.81 L671.34,441.72 L672.09,440.58 L671.78,437.12 L671.59,435.92 L672.32,437 L672.27,436.11 L672.61,434.56 L671.9,433.83 L671.93,432.23 L671.9,432.2 L672.39,428.86 L672.5,428.75 L673.1,428.09 L673.21,431.8 L672.36,432.83 L672.97,434.43 L673.08,433.52 L673.59,433.17 L673.5,434.24 L672.99,435.3 L673.8,437.62 L673.72,437.9 L673.82,440.48 L673.16,440.87 L674,440.76 L674.02,442.03 L673.77,445.61 L674.56,446.93 L674.03,446.24 L674.58,448 L674.26,449.43 L674.29,450.79 L674.5,450 L674.61,447.43 L675.09,446.5 L675.15,445.09 L675.67,446 L675.52,443.32 L675.54,443.26 L675.22,443.97 L675.11,441.58 L675.32,442.03 L676.43,437.72 L676.06,438.42 L676.25,437.5 L676.6,439.42 L676.24,441.23 L676.13,439.05 L676.98,439.98 L676.31,442.5 L676.58,442.16 L677.38,444.4 L677.29,444.5 L677.53,445.38 L677.61,447.95 L677.78,449.58 L677.46,449.63 L677.81,450.27 L676.99,453.15 L677.93,453.23 L677.94,452.43 L677.69,455.79 L678.38,457.19 L677.51,457.24 L678,457.5 L678.23,456.08 L677.93,453.97 L678.46,454.35 L678.39,452.8 L678.9,453.34 L679.11,449.9 L679.63,449.68 L679.89,451.09 L679.07,448.45 L680.23,446.62 L679.89,445.3 L680,445 L680.68,443.82 L682.5,445 L682.41,443.07 L683.37,443.11 L684.11,442.53 L683.76,442.51 L684.45,439.82 L685.08,439.25 L685,437.5 L685.08,436.92 L685.26,437.38 L685.44,436.39 L685.48,431.54 L686.31,431.32 L686.51,429.97 L687.15,431.18 L687.22,431.21 L687.84,429.21 L687.5,427.5 L687.94,424.48 L687.32,425.16 L688.61,423.68 L688.31,421.44 L688.31,424 L688.7,422.66 L688.19,419.15 L688.57,420.65 L688.66,420.02 L689.04,418.79 L689.5,416.25 L689.74,416.64 L690.5,418.06 L690.39,417.8 L690.77,422.55 L690.13,422.7 L690.54,421.4 L690.87,424.55 L691.25,425 L692.19,425.98 L692.64,423.49 L692.63,420.64 L693.12,421.21 L693.25,420 L693.24,422.62 L693.27,420.61 L693.32,421.67 L693.99,425.29 L693.64,425.12 L694.29,426.38 L694.26,427.33 L693.94,426.41 L694.59,428.15 L695.15,429.19 L695,431.25 L695.89,431.15 L695.51,433.03 L696.37,433.4 L697,435 L697.46,434.93 L697.5,438.42 L697.38,438.14 L698.09,439.58 L697.35,438.49 L697.37,440.58 L697.53,442.89 L698.07,442.57 L698.33,446.12 L698.15,444.04 L698.37,445.76 L698.75,447.5 L699.91,447.49 L700,444.5 L700.75,445 L700.45,442.52 L701.67,443.65 L701.09,442.58 L701.22,441.14 L701.8,438.55 L702.54,440.03 L702.51,436.87 L702.95,436.96 L703,436.25 L703.31,435.67 L703.71,436.38 L703.01,439.02 L703.1,438.83 L703.8,443.51 L703.49,441.66 L704.01,442.54 L703.8,445.47 L703.96,444.39 L703.64,447 L704.86,449.56 L703.9,448.95 L704.5,450 L704.99,447.78 L705.7,447.98 L706.37,446.17 L707.02,447.26 L707,445 L707.14,444.57 L707.33,445.51 L707.75,448.79 L707.79,450.91 L707.33,450.86 L708.41,449.45 L708.01,450.22 L708.5,453.89 L708.39,454.78 L708.75,455 L708.88,454.78 L709.05,454.77 L709.53,449.8 L709.4,451.62 L710.62,450.19 L710.05,450.06 L710.75,447.5 L711.89,445.34 L712.5,446.25 L712.43,447.98 L712.04,446.5 L712.53,450.87 L713.37,449.69 L713.34,452.6 L713.35,452.85 L713.55,454.12 L713.59,454.85 L712.76,455.7 L713.17,456.02 L713.11,457.75 L713.44,457.64 L713.14,459.8 L713.48,460.51 L713.74,460.62 L713.65,462.02 L714,464.77 L713.75,465 L714.2,466.07 L713.68,468.7 L714.11,467.5 L713.97,468.61 L714.58,471.27 L714.43,471.92 L714.22,471.81 L714.51,472.23 L714.63,475.02 L715.2,473.83 L714.71,477.14 L715.34,477.7 L715.43,478.77 L715.11,477.24 L715.5,480 L715.37,479.13 L716.14,482.1 L715.83,484.87 L716.03,482.92 L715.51,483.43 L716.1,486.95 L715.78,486.48 L715.56,487.95 L716.13,490.58 L716.34,491.47 L715.89,490.68 L715.78,493.9 L715.66,491.63 L715.82,495.69 L716.55,494.33 L716.59,497.56 L716.12,495.77 L716.58,497.5 L715.83,500.61 L716.26,499.59 L716.49,500.02 L715.84,501.56 L716.31,501.04 L716.35,505.04 L716.34,505.72 L716.73,504.75 L716.05,507.7 L716.8,507.18 L716.35,510.42 L716.75,510 L717.3,507.93 L716.98,508.3 L716.72,505.15 L716.79,506.58 L717.18,505.04 L716.67,502.85 L716.96,502.67 L717.09,503.61 L716.85,502.95 L717.06,501.43 L717.13,499.35 L717.35,496.15 L717.92,498.24 L717.35,497.1 L717.66,496.95 L717.22,493.52 L717.49,493.5 L718.21,493.37 L718,490.55 L718,490 L718.76,489.42 L718.51,493.01 L719.13,494.97 L719.11,493.85 L720,495 L720.49,492.18 L721.18,491.7 L722.5,492.5 L722.7,493.3 L723.22,493.8 L723.81,495.78 L724.51,495.46 L724.3,497.83 L724.49,500.37 L725,500 L725.53,502.14 L726.75,501.25 L726.69,499.55 L727.11,499.42 L726.82,496.46 L727.74,496.56 L726.84,496.67 L727.46,494.31 L727.32,495.34 L727.45,492.59 L728.3,491.32 L727.74,489.48 L728.17,490.45 L728.02,488.37 L727.87,488.87 L728.25,487.99 L728.27,486.56 L727.96,483.46 L729.19,484.27 L728.75,482.5 L729.14,483.49 L729.07,483.29 L728.88,486.08 L729.68,485.53 L729.8,486.04 L729.94,487.19 L729.99,488.76 L730.21,489.04 L730.31,491.97 L730.5,492.5 L730.35,490.66 L731.29,490.54 L731.5,490.41 L731.73,487.1 L731.86,488.46 L732.29,487.08 L732.5,485 L732.54,485.79 L733.46,488.29 L733.28,486.43 L733.43,487.13 L734.02,491.89 L733.97,490.07 L734.31,490.71 L734.49,493.08 L733.72,495.56 L734.5,495 L734.68,497.39 L735.23,497.27 L735.68,497.03 L735.98,498.64 L735.18,499.7 L735.48,499.72 L736.25,502.5 L736.47,502.01 L735.99,503.73 L736.21,507.27 L737.03,508.1 L737.21,507.41 L737.05,507.8 L737.28,510.95 L737.12,509.65 L736.42,513.46 L737.05,513.24 L737.49,512.4 L737.37,514.71 L737.55,515.71 L736.92,518.74 L737.09,518.92 L737.82,517.96 L737.5,520 L737.72,520.58 L737.14,520.87 L737.99,522.47 L737.45,524.01 L736.85,526.01 L737.69,527.5 L737.21,525.84 L737.18,528.93 L737.54,528.62 L737.36,528.62 L737.82,530.89 L737.31,533.15 L736.92,533.89 L737.09,535.25 L736.76,534.1 L737.4,535.93 L737.07,537.31 L736.86,537.75 L736.59,540.19 L736.87,541.32 L737.21,541.41 L737.28,540.5 L737.45,542.17 L737.54,545.15 L737.3,546.26 L736.99,546.69 L737.59,545.76 L736.55,547.65 L737.03,547.6 L737,550 L736.84,550.39 L737.22,546.45 L737.16,547.1 L737.34,545.61 L737.94,544.4 L738.08,544.92 L738.25,542.5 L737.73,545.24 L738,542.7 L738.74,545.85 L738.52,545.46 L738.87,546.84 L738.86,547.55 L738.74,550.25 L738.55,550.6 L738.24,552.28 L739.05,551.34 L738.94,554.68 L738.45,556.13 L739.43,554 L738.74,555.15 L738.81,556.19 L739.15,557.87 L738.98,559.73 L739.12,562.06 L739.6,560.39 L739.05,560.99 L739.24,562.41 L739.5,565 L739.8,567.12 L740.23,565.84 L739.14,569.03 L739.66,570.72 L739.7,569.25 L739.39,572.79 L739.98,571.76 L739.96,574.07 L740.5,573.9 L739.78,574.63 L740.7,575.63 L740.49,577.24 L740.32,578.3 L740.13,579.23 L740.5,580 L740.99,577.3 L740.45,579.49 L741.24,575 L740.87,576.45 L741.19,574.79 L740.39,573.09 L741.14,573.78 L740.59,572.42 L741.19,571.46 L740.48,569.58 L740.9,569.19 L740.97,566.29 L741.43,565.91 L741.63,564.96 L741.39,565.95 L740.93,564.63 L740.93,564.43 L740.93,562.56 L741.4,559.37 L741.49,559.63 L741.56,557.1 L741.75,556.79 L742.34,556.11 L741.76,554.47 L742.45,553.82 L742.12,554.85 L742,552.5 L742.12,552.45 L742.23,548.8 L742.2,549.08 L743.45,547.03 L743.18,548.19 L743.23,544.68 L743.75,545 L743.89,545.7 L744.51,548.59 L743.79,548.24 L744.12,547.14 L744.27,551.66 L744.21,551.34 L744.82,550.25 L745.19,551.44 L744.56,554.86 L744.34,554.5 L744.59,555.89 L744.57,555.6 L744.93,556.33 L744.89,557.78 L745.5,560 L745.72,559.55 L746.29,561.67 L745.8,561.96 L746.71,562.19 L746.79,563.39 L747.23,565.63 L747.02,568.45 L746.62,566.26 L747.53,569.35 L747.5,570 L747.87,568.11 L747.7,566.75 L747.72,566.13 L748,565.2 L747.73,565.57 L747.6,565.2 L748.19,561.92 L747.84,562.04 L748.4,561.88 L748.35,559.65 L749.07,558.1 L749.28,559.57 L749.39,558.77 L748.61,557.26 L749.13,553.82 L749.7,554.59 L749.57,553.23 L748.8,553.45 L749.01,550.04 L749.5,550 L749.74,549.81 L749.66,552.91 L749.32,553.73 L749.44,554.02 L750.19,555.9 L749.57,554.94 L750.77,556.77 L750.23,557.73 L750.66,560.23 L750.71,559.9 L750.72,561.39 L750.36,564.15 L751.4,564.49 L751.53,564.27 L751.45,564.4 L751.44,567.33 L751.25,567.5 L751.86,567.81 L751.86,564.53 L751.83,564.33 L751.34,562.88 L752.01,563.76 L752.14,562.04 L751.41,558.96 L751.97,558.17 L751.77,556.71 L751.63,558.14 L751.79,557.64 L752,556.62 L752.05,553.27 L752.24,551.23 L752.37,551.68 L751.94,552.58 L752.45,548.12 L753.23,548 L752.46,546.17 L752.36,547.88 L753.02,546.04 L753,545 L752.81,545.16 L753.8,546.51 L753.94,549.58 L753.03,550.44 L753.02,550.9 L754.09,551.85 L753.89,553.33 L753.54,553.25 L753.79,553.7 L753.82,555.95 L754.4,557.25 L754.58,557.54 L755.05,559.4 L754.75,558.47 L755.3,559.66 L754.43,560.52 L755.27,563.93 L755.32,563.86 L755.79,565.34 L755.32,565.09 L755.5,566.25 L755.94,564.51 L755.28,564.7 L756.25,562.2 L756.22,563.76 L755.68,559.71 L756.24,559.49 L756.91,561.13 L756.43,559.3 L756.78,555.8 L757.32,554.79 L756.37,554.89 L756.42,553.99 L757.02,554.86 L757.15,553.43 L757.71,551.36 L757.5,550 L757.34,548.22 L757.79,547.58 L758.12,547.02 L757.89,546.43 L758.85,543.81 L758.2,542.05 L758.06,541.22 L758.61,543.35 L759.09,542.86 L759.4,540.34 L759.25,537.05 L759.16,537.05 L759.59,535.26 L759.65,535.5 L759.74,534.62 L759.42,534.93 L760.41,533.39 L759.74,532.4 L760.8,532.95 L760.5,530 L760.93,529.21 L761.19,532.72 L760.58,534.77 L761.36,535.7 L760.79,535.45 L761.06,535.36 L761.64,537.67 L761.24,538.41 L762.07,539.53 L762.17,540.56 L762.38,539.44 L761.86,542.56 L762.3,545.26 L762.3,544.32 L762.43,545.57 L762.63,548.26 L762.5,547.5 L762.42,547.78 L763.95,547.74 L764.35,548.62 L764.68,552.7 L765,552.5 L764.74,551.02 L764.77,551.32 L765.18,549.92 L764.99,548.85 L765.8,548.62 L765.84,545.49 L765.37,545.04 L765.22,545.71 L765.06,543.73 L765.83,544.24 L764.97,540.58 L765.59,542.25 L765.25,540.86 L765.58,538.69 L766.26,535.76 L765.6,535.12 L765.41,534.71 L766.14,534.82 L765.5,534.71 L766.01,531.07 L766.43,532.78 L765.76,532.26 L766.52,528.42 L765.6,529.97 L766.25,527.5 L766.87,526.91 L767.02,530.64 L767.09,531.9 L767.74,530.9 L767.79,534.3 L767.39,534.37 L768.06,536.05 L768.15,534.78 L768,536.88 L768.09,539.17 L768.75,538.75 L769.72,536.72 L769.99,537.44 L769.8,536.86 L771.07,533.98 L771.25,533.75 L771.18,531.84 L772.41,531.53 L772.88,529.26 L772.44,528.98 L773.79,527.19 L773.75,527.5 L773.86,527.57 L774.51,526.3 L775.13,523.67 L776.25,523.75 L776.61,526.27 L776.46,525.59 L776.16,526.18 L776.58,529 L777.3,530 L777.24,530.68 L776.92,530.45 L777.27,531.06 L777.97,531.81 L777.63,533.11 L778,535 L778.53,536.58 L778.15,536.58 L778.77,539.85 L778.29,539.38 L778.88,539.17 L778.24,539.59 L778.62,543.28 L778.29,542.97 L779.38,544.19 L778.74,546.65 L779.44,545.83 L778.61,547.9 L779.44,550.08 L779.43,548.64 L779.34,549.59 L779.35,551.34 L779.5,552.5 L780.49,553.12 L781.01,550.41 L781.56,548.06 L782.01,549.06 L782,547.5 L782.64,548.21 L782.97,547.72 L782.99,551.95 L782.62,553.05 L782.62,553.8 L783.12,553.49 L782.98,556.1 L783.82,554.32 L784.3,555.9 L783.77,557.74 L784.21,560.7 L784.84,560.73 L784.5,561.25 L784.96,558.74 L785.23,559.45 L786.47,558.23 L787,557.5 L787.79,558.14 L787.25,559.14 L787.25,562.2 L787.97,561.6 L787.98,561.41 L788.06,563.37 L788.44,566.29 L788.79,564.19 L788.39,564.98 L788.96,568.45 L789.82,567.25 L789.91,569.05 L789.83,570.4 L790,571.25 L789.57,568.5 L790.44,569.98 L790.21,569.89 L790.86,566.41 L790.08,566.4 L790.9,564.08 L790.29,564.12 L790.39,564.1 L791.22,561.26 L791.13,560.06 L790.93,558.84 L791.81,558.92 L791.81,557.49 L792.03,557.47 L791.97,555.64 L791.98,553.82 L792.59,554.74 L792.18,553.59 L791.78,551.36 L792.06,552.38 L792.5,550 L792.09,548.78 L793.29,549.13 L793.29,546.21 L792.88,546.82 L793.13,545.89 L793.37,545.04 L793.81,544.26 L794.48,541.51 L794.66,539.04 L794.25,540 L794.8,539.13 L794.49,541.58 L794.86,542.3 L794.28,545.18 L794.79,546.08 L794.81,544.22 L795.24,545.96 L794.98,546.1 L794.82,549.77 L795.52,550.66 L795.23,552.06 L795.6,550.97 L795.53,553.55 L795.86,552.96 L795.45,554.55 L795.29,555.58 L796.14,557.51 L795.57,559.14 L795.6,560.23 L795.73,558.62 L796.25,561.25 L796.16,562.35 L796.39,564.87 L797.4,563.51 L797.38,566.2 L797.37,565.48 L798.04,569.33 L797.12,567.86 L797.7,568.38 L798.04,572.22 L797.76,573.01 L798.31,570.76 L798.75,573.75 L799.51,571.87 L798.96,570.27 L799.42,569.31 L799.48,568.86 L800.23,568.67 L800.18,568.02 L801.02,567.84 L800.78,567.64 L801.25,565 L801.96,564.18 L801.93,562.18 L801.88,563.33 L802.81,559.11 L803.55,561.19 L802.83,559.37 L803.75,557.5 L803.61,558.64 L804.5,558.9 L804.27,561.16 L804.08,562.01 L804.54,564.43 L804.43,564.34 L804.42,563.6 L804.69,564.1 L805.36,565.2 L805.5,567.5 L806.1,564.79 L806.15,566.76 L805.8,563.09 L806.82,563.01 L807.27,561.38 L806.88,562.77 L807.06,561.71 L807.5,558.75 L809.22,556.93 L810,557.5 L810.24,560.28 L809.92,560.93 L810.89,561.54 L810.87,559.96 L811.49,560.99 L811.47,564.49 L811.09,565.35 L811.39,566.63 L811.14,568.37 L811.74,568.87 L812.03,569.92 L812.01,569.87 L811.87,570.66 L812.12,573.16 L813.03,572.43 L813,573.75 L813.72,574.48 L813.86,569.96 L813.71,571.49 L813.74,567.58 L814.28,568.22 L814.04,568.66 L813.81,564.46 L814.74,564.37 L813.83,562.78 L815.13,564.13 L814.34,560.7 L815.32,561.72 L815,560 L815.43,559.5 L815.56,563.73 L815.4,562.59 L815.8,565.88 L816.19,566.68 L817.41,566.76 L816.78,567.59 L817.66,567.74 L818,568.75 L817.93,567.73 L819.08,565.13 L819.52,565.22 L819.15,563.42 L819.74,563.98 L820.23,563.88 L820.5,561.25 L820.76,560.21 L821.59,557.92 L820.67,557.28 L821.28,555.37 L821.65,553.92 L822.5,554.62 L822.7,554.38 L822.5,552.5 L823.28,554.53 L823.26,555.42 L823.65,555.72 L824.61,557.6 L825,557.5 L824.88,555.9 L825.94,556.77 L826.41,553.06 L825.76,552.04 L826.66,553.62 L826.84,552.78 L826.96,550.94 L827.73,550.32 L827.5,548.75 L827.8,550.12 L827.71,551.81 L827.92,550.31 L827.85,552.5 L827.97,554.07 L827.99,554.41 L828.18,555.35 L828.94,555.24 L827.9,558.78 L828.47,558.7 L828.81,559.39 L828.5,559 L829.37,563.71 L828.77,562.83 L828.93,562.22 L829.25,565 L829.76,567.36 L829.02,566.05 L829.61,569.23 L829.37,568.61 L829.13,571.27 L829.92,572.53 L829.06,572.48 L830.14,573.99 L829.55,572.72 L829.11,576.08 L829.16,577.41 L829.92,577.08 L830.23,579.93 L829.94,577.62 L829.94,579.92 L829.57,582.96 L830.19,580.75 L829.63,582.65 L830.08,583.6 L829.96,586.57 L829.69,587.21 L829.91,589.12 L830.69,587.67 L830.31,587.82 L830.12,590.88 L830.43,590.78 L829.75,590.92 L830.42,592.12 L830.15,594.93 L830.9,595.53 L830.17,596.83 L830.5,597.5 L830.41,597.61 L830.45,594.5 L830.97,596.06 L830.83,592.18 L830.97,591.24 L831.39,590.94 L832.08,589.96 L831.92,588.9 L832.47,589.91 L832.23,588.96 L832.5,586.25 L832.38,589.18 L832.89,589.02 L832.9,588.4 L832.79,591.88 L833.24,592.16 L833.54,592.49 L833.42,592.12 L833.76,595.16 L834.19,593.46 L834.57,596.21 L834.5,597.5 L834.16,595.54 L834.5,596.79 L835.09,593.81 L834.9,592.66 L835.11,591.89 L835.9,592.65 L835.96,592.04 L836.08,587.95 L835.53,587.16 L836.25,587.5 L836.11,588.65 L836.93,589.93 L836.6,589.59 L837.41,592.68 L836.79,590.89 L837.7,592.77 L837.69,593.26 L837.6,595.26 L838.03,596.06 L837.23,596.71 L838.22,600.87 L838,600 L838.35,599.7 L838.1,597.04 L838.05,598.87 L838.18,596.36 L838.73,593.63 L839.01,595.59 L838.97,591.5 L839.61,592.45 L839.65,589.51 L840.27,588.22 L840,588.75 L840.23,588.65 L841.27,590.53 L841.94,592.47 L842.5,592.5 L843.33,591.3 L842.66,591.68 L842.99,588.56 L843.5,588.62 L844.62,585.66 L844.4,587.48 L845,585 L846.23,583.02 L847.22,585.34 L848,583.75 L848.39,583.31 L849.19,584.9 L849.06,585.22 L850,587.5 L850.05,584.97 L850.2,585.62 L850.56,583.99 L851.03,581.68 L850.63,584.03 L851.44,582.93 L851.48,580.35 L851.68,579.46 L851.04,577.15 L851.18,578.58 L851.62,575.67 L852,575 L852.19,574.45 L852.54,578.27 L852.79,579.65 L852.36,577.75 L853.04,580.98 L852.72,580.62 L852.61,583.62 L853.12,584.58 L853.12,583.66 L853.47,586.4 L854.06,585.87 L853.75,587.5 L854.61,588.05 L855.43,590.42 L855.69,589.76 L856.25,591.25 L856.6,591.73 L857.86,588.35 L857.63,586.84 L858.75,587 L859.72,586.07 L859.96,588.95 L860.06,589.91 L860.31,590.9 L860.34,593.26 L861.25,592.5 L861.52,590.31 L862.96,591.56 L863.87,591.02 L864.77,587.71 L865,588.75 L865.16,586.76 L866.83,585.49 L867.29,587.02 L868,585 L867.79,584.11 L868.88,583.99 L868.48,581.92 L868.53,582.84 L869.34,580.72 L868.97,579.93 L869.38,579.19 L869.44,578.53 L870.02,575.8 L870,575 L870.13,575.2 L870.15,574.8 L869.58,573.52 L870.48,570.87 L870.7,568.48 L870.15,569.72 L870.79,567.33 L871.05,567.41 L869.97,564.29 L870.06,565.05 L870.41,562.79 L870.62,561.04 L871.23,563.06 L870.87,560.46 L870.62,560.07 L870.73,560.54 L871.51,558.52 L871.41,554.89 L870.63,554.95 L870.69,554.24 L871.78,554.86 L871.25,552.5 L872.63,550.55 L872.58,548.93 L873.75,550 L873.61,547.17 L874.05,547.09 L874.36,547.07 L874.41,544.97 L874.7,545.47 L874.81,543.54 L874.65,541.74 L874.28,541.4 L875.1,539.23 L875.53,540.94 L875.66,539.63 L875.35,536.01 L875.5,536.25 L876.31,537.62 L878.25,535.53 L878.75,537.5 L878.56,535.98 L879.38,536.02 L879.5,536.06 L880.18,535.38 L880.58,532.03 L880.8,533.74 L881.7,532.24 L882,530 L881.98,531.21 L883.28,534.02 L884.02,531.54 L883.85,536.16 L884.54,537.04 L885,536.25 L885.95,534.98 L887.5,537.5 L888.24,537.56 L887.97,538.94 L888.19,542.24 L888.84,543.01 L888.21,543.78 L888.12,543.17 L889.43,543.52 L888.94,545.83 L888.98,547.33 L889.5,547.5 L889.83,544.84 L890.3,543.7 L890.17,543.77 L889.66,541.65 L890.83,543.49 L890.33,542.43 L891.08,541.91 L890.71,538.27 L890.83,540.05 L891.23,537.76 L891.52,535.68 L891.25,535 L891.55,535.37 L891.34,534.39 L891.36,532.08 L892.25,529.49 L892.89,529.64 L892.24,528.51 L892.95,527.56 L892.47,525.19 L893.55,524.32 L893.23,526 L893.75,523.75 L894.81,526.21 L894.61,523.65 L895.93,526.96 L896.25,527.5 L896.34,526.57 L896.67,528.45 L897.11,532.42 L896.9,529.8 L897.73,530.93 L897.42,533.26 L898.58,533.8 L898.03,535.4 L898.09,536.11 L898.75,537.5 L899.82,535.96 L900.77,534.57 L901.25,535 L900.99,536.6 L901.63,538.86 L901.43,539.27 L902.33,538.86 L901.9,540.92 L902.87,541.45 L902.75,543.4 L903,543.75 L903.27,544.48 L902.9,545.69 L903.48,548.46 L904.15,548.14 L903.49,547.85 L903.99,550.95 L903.67,551.8 L904.71,551.65 L904.78,552.87 L904.57,555.63 L904.17,554.59 L905.25,554.51 L904.57,557.2 L905.24,558.86 L905.6,560.05 L904.62,558.7 L904.81,561.18 L905.5,562.5 L905,561.6 L905.79,559.31 L906.13,559.15 L906.32,557.93 L905.98,557.67 L905.62,557.62 L905.37,554.5 L905.82,556.03 L906.1,551.65 L905.93,552.94 L906.6,549.94 L906.64,550.06 L906.4,549.18 L906.36,550.46 L907,549.17 L906.85,547.3 L906.2,543.64 L907.1,545.19 L906.92,542.75 L906.55,544.18 L906.94,539.58 L906.78,539.9 L906.51,541.41 L907.58,539.76 L906.57,537.17 L906.77,537.4 L907.67,536.66 L907.72,532.98 L906.85,531.87 L907.5,532.5 L908.08,532.78 L907.85,529.36 L908.43,527.86 L907.96,526.34 L908.91,526.95 L908.83,527.46 L908.76,527.16 L909.16,525.88 L909.56,521.45 L909.47,520.99 L909.12,520.41 L909.5,520 L910.09,517.24 L909.42,516.51 L910.1,516.98 L909.74,516.08 L909.82,514.35 L909.4,514.98 L909.74,514.55 L909.27,513.39 L909.78,511.29 L909.5,510 L909.64,509.2 L909.49,506.25 L910.02,505.28 L909.96,506.58 L911.03,505.11 L910.65,504.46 L911.25,502.5 L912.31,502.14 L912.26,501.09 L913.25,500 L913.3,500.08 L913.18,503.46 L913.93,504.73 L913.56,503.06 L914.14,503.24 L914.06,506.16 L914.45,508.64 L914.74,508.55 L914.93,510.14 L915,510 L915.02,506.98 L915.94,509.12 L915.1,505.38 L915.39,506.54 L915.47,502.97 L916.08,501.89 L915.98,502.37 L916.1,499.83 L916.35,499.77 L916.61,499.43 L917,498.75 L917.33,499.05 L917.42,502.1 L918.79,501.72 L918.4,501.68 L919.5,503.75 L921.23,502.95 L922,502.5 L921.9,502.78 L922.97,498.99 L922.75,499.75 L922.54,497.78 L923.39,498.19 L923.65,496.98 L923.6,493.78 L923.42,495.85 L924.69,495.12 L924.5,492.5 L924.62,492.64 L925.36,490.01 L926.02,491.13 L927,488.75 L928.01,491.02 L928.11,492.37 L928.59,491.86 L929.5,492.5 L929.82,492.43 L929.59,492.9 L930.21,494.24 L929.53,495.61 L930.25,498.05 L930.23,499.91 L930.62,498.34 L930.47,499.18 L930.24,500.09 L930.16,501.9 L931.25,504.12 L930.41,503.38 L931.13,505.62 L930.57,504.88 L931.25,507.5 L932.2,508.53 L933,508.75 L932.65,508.78 L933,506.99 L933.5,504.94 L934.15,504.1 L933.68,503.62 L934.33,504.35 L934.4,501.5 L934.49,500.84 L934.94,501.11 L934.85,497.04 L934.77,496.87 L934.52,497.18 L935,495 L934.92,496.84 L935.49,496.71 L936,498.9 L936.59,501 L936.61,499.06 L936.7,500.98 L937.28,501.79 L936.83,501.1 L937.21,504.13 L937.5,505 L937.52,502.42 L937.98,501.28 L937.86,501.78 L938.32,501 L938.79,499.55 L938.56,497.07 L939.32,499.88 L939.24,496.41 L939.53,496.97 L940,495 L940.35,497.26 L940.12,495.67 L940.72,497.69 L941.31,498.83 L942.34,500.11 L942.23,503.28 L942.5,502.5 L942.88,503.92 L943.31,503.92 L942.57,507.46 L943.37,507 L943.02,508.69 L943.6,509.32 L943.7,511.46 L944.01,509.94 L944.85,510.77 L944.31,512.86 L945.37,512.42 L945,515 L945.01,515.11 L945.2,512.51 L946.41,512.64 L946.78,509.18 L947.25,509.07 L947.52,508.46 L947.5,507.5 L948.47,508.41 L948.21,508.1 L949,508.7 L949.1,513 L950,512.5 L950.59,512.95 L950.58,510.42 L951.46,507.93 L951.72,510.19 L952.5,507.5 L953.52,506.6 L954.13,507.07 L955.29,505.07 L955.5,503.75 L955.21,506.33 L955.6,504.9 L955.81,507.08 L956.6,507.97 L956.71,507.78 L957.26,510.46 L957.02,512.74 L957.5,512.5 L958.65,513.25 L959.33,508.9 L959.24,509.49 L960,508.75 L959.94,510.75 L960.94,509.35 L960.69,513.69 L961.38,512.64 L960.66,513.69 L961.38,516.03 L961.21,515.03 L962.4,514.98 L962.18,516.33 L962.57,518.67 L962.5,520 L963.51,517.89 L963.95,516.91 L963.46,515.35 L963.99,515.55 L965,515 L965.92,513.35 L965.97,510.99 L966.09,511.94 L965.95,511.03 L966.72,508.95 L967.54,509.34 L967.5,507.5 L967.18,504.92 L967.23,504.55 L968.06,506.37 L968.6,504.96 L967.72,503.67 L968.61,501.39 L969.03,500.9 L968.11,498.36 L968.26,498.94 L968.98,498.93 L968.38,494.54 L969.67,494.55 L968.95,495.97 L968.9,494.67 L969.5,492.5 L970.27,491.71 L970.21,488.44 L970.5,489.83 L970.99,488.4 L970.5,486.18 L971.25,486.25 L972.06,485.51 L972.03,487.13 L973.48,489.25 L973.75,490 L974.41,491.02 L975.51,487.29 L976.25,487.5 L976.95,489.86 L977.34,489.11 L978.22,492.26 L978.75,491.25 L979.54,489.04 L980.1,488.66 L980.59,489.29 L981.25,487.5 L981.51,486.7 L982.69,486.23 L983.75,485 L984.49,485.94 L984.62,486.3 L984.53,488.25 L985.22,488.18 L985.85,490.36 L985.72,490.44 L986.25,492.5 L987.9,494.11 L989.28,491.49 L990,492.5 L990.11,493.96 L990.68,495.8 L992.09,494.66 L992.5,496.25 L993.68,496.36 L995,495 L995.22,495.4 L996.59,497.6 L996.98,496.23 L997.5,498.75 L997.66,496.78 L997.94,497.31 L999.09,497.45 L999.57,496.42 L1000,493.75 L1000.59,494.76 L1000.99,495.48 L1002.4,496.51 L1002.5,497.5 L1002.4,497.91 L1003.14,499.99 L1004.01,500.4 L1005.01,502.55 L1005,502.5 L1004.59,501.62 L1005.41,504.89 L1005.43,505.5 L1004.78,506.31 L1005.82,507.91 L1004.95,507 L1006.07,509.68 L1005.26,511.33 L1006.26,512.96 L1006.01,513.73 L1005.42,513.35 L1006.37,513.87 L1005.66,516.96 L1006.41,514.53 L1006.25,517.5 L1006.56,516.9 L1008.46,516.3 L1008.75,515 L1009.7,514.42 L1009.84,515.73 L1010.05,516.6 L1010.71,517.18 L1011.25,520 L1011.58,519.54 L1012.03,518.99 L1011.18,518.35 L1011.88,517.58 L1011.97,513.12 L1012.37,512.44 L1012.85,512.87 L1012.9,511.64 L1012.35,511.27 L1012.96,509.42 L1012.58,508.22 L1013,507.5 L1013.54,507.49 L1013.16,509.58 L1014.05,508.98 L1013.87,513.67 L1014.15,513.94 L1014.48,512.27 L1015,515 L1015.82,517.31 L1017,514.86 L1017.5,517.5 L1018.58,517.15 L1019.15,516.49 L1020,515 L1020.53,512.73 L1021.23,511.52 L1021.27,513.41 L1022.08,511.04 L1022.5,510 L1024,509.55 L1024.86,509.38 L1026.25,508.75 L1026.09,509.2 L1026.53,512.82 L1027.99,512.49 L1027.51,514.34 L1028.07,515.18 L1028.75,515 L1029.43,514.42 L1030.04,512.07 L1030.65,512.17 L1031.06,512.36 L1031.25,510 L1031.42,508.75 L1032.01,506.52 L1033.09,508.06 L1033.09,506.61 L1034.03,503.81 L1033.87,505.39 L1034.5,503.75 L1035.29,504.68 L1035.71,504.52 L1036.95,505.93 L1037.5,507.5 L1038.86,508.27 L1039.73,504.94 L1040,505 L1040.85,504.25 L1041.5,504.96 L1042.5,507.5 L1042.71,508.29 L1043.23,504.87 L1042.86,506.1 L1042.8,504.71 L1043.97,500.57 L1044.29,501.83 L1043.83,499.91 L1044.3,499.27 L1044.82,499.71 L1044.38,495.12 L1045.13,496.63 L1045,495 L1045.27,492.3 L1044.65,494.59 L1045.08,491.89 L1045.89,489.78 L1045.56,488.25 L1045.55,489.96 L1045.15,489.04 L1046.2,488.3 L1046.07,487.79 L1046.06,485.19 L1046.27,485.23 L1046.11,483.68 L1045.65,481.35 L1045.91,482.44 L1046.54,479.16 L1046.87,477.24 L1045.83,477.31 L1045.93,478.8 L1046.35,475.55 L1047.03,475.13 L1046.84,473.76 L1046.71,474.83 L1046.57,472.1 L1046.89,469.56 L1047,470 L1047.58,470.86 L1049.36,471.4 L1050,472.5 L1049.83,473.17 L1050.28,471.89 L1050.53,469.88 L1051,467.26 L1051.69,468.16 L1052.07,465.74 L1052.5,465 L1052.78,466.08 L1053.04,468.81 L1053.33,466.53 L1054.16,468.41 L1054.5,470 L1054.93,467.16 L1055.05,467.46 L1055.51,466.2 L1055.09,465.27 L1055.37,464.12 L1055.7,463.65 L1055.92,462.17 L1055.78,462.23 L1056.26,461.61 L1056.08,458.34 L1055.87,457.59 L1056.12,456.73 L1056.86,456.36 L1057.32,454.94 L1057,455 L1056.9,454.77 L1056.99,457.81 L1057.72,457.13 L1058.21,459.87 L1057.96,460.64 L1058.44,461.01 L1057.97,461.75 L1059.2,462.83 L1059.04,462.73 L1059.41,466.87 L1059.14,465.95 L1059.5,467.5 L1059.72,465.47 L1059.57,463.93 L1060.35,464.41 L1060.88,465.18 L1060.99,464.07 L1061.16,459.35 L1060.51,462.11 L1061.62,459.63 L1061.52,457.87 L1061.49,455.67 L1061.85,455.14 L1062,455 L1061.9,457.55 L1062.8,458.65 L1062.82,458.52 L1063.16,460.61 L1063.44,460.95 L1064.21,460.73 L1064.5,462.5 L1064.27,461.47 L1065.08,461.83 L1064.98,458.32 L1065.38,459.82 L1065.57,458.17 L1065.61,455 L1066.69,455.68 L1066.26,454.61 L1067,453.75 L1067.95,454.36 L1067.9,455.51 L1068.26,455.05 L1069.13,458.24 L1068.9,458.1 L1069.5,460 L1069.37,460.73 L1070.41,457.51 L1070.37,457.21 L1070.14,454.13 L1071.03,453.65 L1071.08,452.07 L1070.68,451.66 L1071.68,452.45 L1072.34,451.64 L1072,450 L1072.12,447.01 L1072.74,447.87 L1072.72,445.04 L1072.79,445.74 L1072.15,444.42 L1072.07,444.07 L1072.34,443.51 L1072.39,442.43 L1073.02,441.47 L1073.51,438.76 L1073.29,438.13 L1073.64,438.8 L1073.58,436.86 L1073.07,437.05 L1074.02,436.17 L1073.36,434.62 L1073.87,433.65 L1073.75,431.25 L1074.99,430.44 L1075.5,430 L1075.58,432.22 L1076.1,432.24 L1076.57,431.25 L1075.75,434.03 L1076.06,436.58 L1076.26,437.78 L1076.63,435.83 L1077.47,439.04 L1077.27,439.76 L1077.65,442.21 L1077.8,441.62 L1078,442.5 L1078.2,441.15 L1078.73,438.95 L1078.98,441.21 L1079.31,438.67 L1079.07,435.89 L1079.01,436.66 L1080.21,436.96 L1079.62,435.5 L1080.62,433.42 L1080.5,432.5 L1081.76,430.41 L1081.97,430.89 L1083,430 L1083.77,430.8 L1083.76,433.47 L1084.37,432.68 L1084.67,433.93 L1085.5,435 L1086.37,435.38 L1086.94,436.85 L1086.79,439.66 L1088,438.75 L1087.94,437.88 L1088.94,435.46 L1088.05,434.4 L1088.35,435.92 L1088.98,431.63 L1088.88,432.45 L1088.96,430.57 L1090.02,430.07 L1089.41,429.62 L1089.46,428.25 L1090.29,425.47 L1090.37,425.3 L1090.5,425 L1090.99,426.46 L1091.39,427.43 L1090.72,426.74 L1091.54,430.24 L1090.98,429.67 L1091.44,430.87 L1092.35,432.24 L1092.39,434.06 L1092.03,434.47 L1092.5,435 L1092.85,435.83 L1093.54,437.54 L1093.6,439.17 L1094.5,438.75 L1094.21,436.98 L1095.15,438.65 L1094.68,437.49 L1094.4,436.48 L1094.71,431.78 L1095.5,431.26 L1095.6,429.62 L1094.96,430 L1095.02,429.43 L1095.45,429.48 L1095.74,429.36 L1096.28,425.16 L1096.48,427.03 L1096.17,424.54 L1095.81,422.69 L1095.98,421.17 L1096.57,420.66 L1096.87,420.63 L1097.05,417.67 L1097.19,418.33 L1097.04,416.23 L1097,416.25 L1097.33,416.92 L1097.46,418.67 L1096.86,418.58 L1097.69,418.48 L1097.64,421.64 L1097.84,421.82 L1097.65,423.45 L1098.08,422.88 L1097.89,424.66 L1098.08,425.7 L1097.72,426.63 L1098.64,428.2 L1098.72,430.73 L1098.08,431.05 L1097.87,433.61 L1098.71,431.37 L1098.68,433.94 L1098.75,435 L1099.45,435.16 L1100.24,437.49 L1099.74,439.27 L1101.21,438.22 L1101.25,440 L1102.09,442.27 L1102.87,439.95 L1103,442.5 L1103.69,442.56 L1103.93,445.39 L1103.82,447.32 L1104.51,448.76 L1104.98,448.15 L1105,449.61 L1105,450 L1105.01,449 L1105.28,446.86 L1105.11,448.38 L1105.95,446.79 L1105.89,445.04 L1105.89,444.67 L1105.34,442.77 L1106.63,440.82 L1106.16,439.31 L1106.04,441.3 L1105.91,440.2 L1106.96,439.47 L1106.44,438.73 L1106.71,435.8 L1107,435 L1108.37,434.34 L1108.88,431.77 L1109.5,432.5 L1109.41,432.56 L1110.03,435.8 L1110.7,437.33 L1111.71,435.27 L1112,437.5 L1112.61,435.7 L1112.75,433.66 L1113.47,435.43 L1113.53,433.98 L1113.59,430.65 L1113.93,432.03 L1114.5,430 L1114.69,427.54 L1114.42,427.9 L1114.27,425.18 L1114.91,424.54 L1115.55,423.51 L1115.5,425.18 L1115.1,423.17 L1116.02,422.47 L1115.41,422.9 L1115.38,421.82 L1115.56,418.69 L1115.68,418.61 L1116.48,417.76 L1115.75,417.96 L1116.25,415 L1116.73,413.98 L1117.09,411.35 L1116.99,413.02 L1117.42,411.53 L1116.77,409.71 L1117.22,409.18 L1117.58,407.53 L1117.96,407.02 L1118.59,404.75 L1118.06,403.32 L1118.08,404.94 L1118.75,402.5 L1120.09,401.84 L1120.25,405.78 L1121.25,405 L1122.52,406.08 L1123.51,402.55 L1123.75,402.5 L1123.73,402.44 L1124.75,402.44 L1124.95,405.2 L1125.75,406.25 L1126.02,403.86 L1125.41,403.55 L1125.43,401.71 L1125.5,403.42 L1126.49,399.38 L1126.45,401.58 L1126.33,398.39 L1126.59,396.51 L1125.71,399 L1125.98,397.83 L1126.68,393.35 L1125.94,394.74 L1126.06,393.81 L1126.75,391.06 L1126.57,389.98 L1127.1,390.64 L1126.94,389.6 L1126.24,389.65 L1127.16,387.16 L1126.99,386.06 L1127.24,385.21 L1126.73,384.14 L1126.7,381.08 L1127.13,383.54 L1127.42,379.89 L1127.23,380.37 L1127.37,378.87 L1127.34,378.78 L1127.84,377.08 L1127.78,376.73 L1127.5,375 L1127.54,373.1 L1128.28,372.54 L1128.99,371.37 L1129.5,371.25 L1130.21,371.17 L1129.56,370.02 L1130.34,366.84 L1130.09,369.02 L1129.9,367.68 L1130.52,364.44 L1129.84,365.37 L1130.27,362.53 L1130.44,363.02 L1131.07,362.76 L1131.02,358.78 L1130.66,357.09 L1130.56,357.41 L1130.64,356.94 L1130.7,356.63 L1131.25,355 L1131.98,354.82 L1133.14,355.98 L1133.75,357.5 L1133.35,357.85 L1134.4,357.01 L1134.03,353.56 L1134.69,352.09 L1135.18,353.11 L1134.86,349.71 L1134.71,350.19 L1135.73,348.08 L1135.44,346.81 L1135.5,347.5 L1136.22,349.55 L1136.18,350.61 L1135.58,349.64 L1135.56,351.94 L1135.77,351.54 L1136.03,355.53 L1136.92,354.05 L1137.3,354.6 L1136.45,356.54 L1137.41,356.47 L1137.54,359.31 L1137.7,359.54 L1137.5,361.25 L1137.14,360.7 L1138.15,363.39 L1138.39,363.22 L1138,364.33 L1138.88,367.35 L1138.24,368.5 L1138.29,368.52 L1138.75,370.77 L1139.49,371.5 L1139.06,370 L1139.78,373.66 L1139.22,375.3 L1140,375 L1140.62,373.42 L1140.32,373.55 L1140.95,372.51 L1140.61,371.96 L1140.72,367.98 L1140.94,368.48 L1140.83,367.37 L1140.84,366.01 L1141.62,367.28 L1141.42,366.09 L1141.17,363.74 L1142.06,363.77 L1141.78,360.29 L1142.61,361.03 L1142.39,358.94 L1141.89,358.81 L1142.5,357.5 L1142.89,358.06 L1143.7,356.52 L1144.08,355.51 L1144.06,355.49 L1145,352.5 L1145.76,353.72 L1145.96,352.53 L1147,355 L1147.41,356.93 L1147.52,356.06 L1147.46,359.14 L1147.81,360.73 L1147.3,361.21 L1147.37,361.64 L1148.15,360.46 L1148.18,363.85 L1148.87,362.51 L1148.6,366.41 L1148.75,366.25 L1148.48,366.76 L1149.66,363.5 L1148.98,361.66 L1149.18,361.69 L1149.96,362.71 L1149.97,361.72 L1150.01,359.48 L1149.69,357.46 L1149.91,355.26 L1151.04,354.13 L1150.63,354.72 L1151.09,351.68 L1151.25,352.5 L1151.37,352.37 L1152.3,349.2 L1153,350 L1153.17,350.49 L1154,350.19 L1153.22,351.3 L1153.86,355.84 L1154.33,353.45 L1154.25,355.43 L1154.97,357.83 L1154.72,357.03 L1154.72,359.11 L1155,360 L1154.99,361.26 L1154.77,361.68 L1155.98,362.6 L1155.54,365.01 L1156.04,365.95 L1155.66,366.85 L1155.57,367.47 L1155.49,366.77 L1155.81,368.41 L1156.62,368.08 L1156.92,369.37 L1157.14,373.8 L1156.87,374.36 L1157.4,373.79 L1157,375 L1157.64,372.1 L1157.75,373.51 L1157.96,370.47 L1157.33,370.93 L1158.17,370.54 L1157.86,369.02 L1159.02,366.72 L1159.05,368.51 L1159.08,365.39 L1158.99,364.45 L1158.84,361.84 L1159.5,362.5 L1159.56,362.27 L1160.62,364.09 L1160.91,365.97 L1161.26,368.37 L1161.36,367.65 L1161.12,369.19 L1161.75,370 L1162.36,370.48 L1162.87,368.88 L1164.25,367.5 L1164.16,368.18 L1164.5,371.43 L1165.14,369.93 L1165.2,373.32 L1164.78,372.75 L1164.49,374.66 L1164.93,375.55 L1165.56,375.99 L1165.38,376.7 L1164.81,377.34 L1164.82,377.22 L1166.03,379.02 L1165.11,380.24 L1165.12,381.93 L1165.42,381.37 L1166.01,385.2 L1165.37,385.36 L1166.15,385.45 L1166.06,384.54 L1166.25,387.5 L1166.19,386.56 L1166.29,387.42 L1166.41,385.79 L1167.09,384.56 L1166.83,382.35 L1167.37,379.79 L1166.74,378.35 L1167.18,379.08 L1167.86,379.96 L1167.31,377.19 L1167.07,377.19 L1167.68,373.82 L1168.23,372.29 L1167.53,373 L1168.61,370.61 L1167.85,372.19 L1168.25,370 L1168.64,370.88 L1168.84,367.29 L1170,367.5 L1170,369.92 L1169.98,370.24 L1171.15,372.47 L1171.28,369.79 L1171.12,371.49 L1170.91,372.61 L1171.87,374.96 L1171.37,374.82 L1171.52,378.41 L1172.58,377.62 L1172.5,378.75 L1173.47,379.62 L1172.98,375.68 L1173.38,376.14 L1174.28,374.66 L1174.91,373.66 L1175,372.5 L1174.96,372.15 L1175.9,368.65 L1175.53,367.99 L1176.02,368.14 L1176.32,368.06 L1176.64,366.68 L1176.39,367.24 L1176.82,363.67 L1176.16,364.98 L1176.29,363.97 L1177,361.25 L1177.74,360.8 L1177.98,359.49 L1177.95,358.35 L1177.54,355.19 L1178.39,355.59 L1177.86,354.92 L1178.25,352.64 L1178.75,352.5 L1179.56,354.04 L1179.76,355.91 L1179.75,355.52 L1180.1,356.22 L1180.87,359.39 L1180.65,359.77 L1181.25,360 L1181.41,357.03 L1182.47,359.11 L1182.55,358.98 L1183.51,355.28 L1183.75,355 L1184.56,357.38 L1184.32,358.65 L1185.17,357.1 L1185.6,359.11 L1186.25,360 L1186.56,358.21 L1186.28,358.58 L1187.34,357.86 L1187.24,357.54 L1187.06,353.66 L1187.34,354.38 L1188.22,352.1 L1188.5,350.24 L1188.75,351.25 L1188.82,354.04 L1190.46,351.4 L1190.81,354.1 L1191.25,355 L1191.71,357.4 L1192.25,358.85 L1192.72,359.79 L1192.46,360.46 L1193.12,361.89 L1193.75,361.25 L1194.72,364.05 L1195.31,362.69 L1195.65,365.19 L1196.25,365 L1196.34,366.09 L1197.58,367.75 L1197.94,368.24 L1198.75,368.75 L1199.26,369.3 L1199.42,372.41 L1199.28,371.92 L1199.64,374.2 L1199.61,373.01 L1199.98,375.5 L1199.93,377.82 L1200.57,377.85 L1200.69,376.06 L1200.89,379.26 L1201.25,380 L1201.01,380.92 L1201.85,377.84 L1201.43,375.99 L1202.05,376.6 L1202.11,374.94 L1202.47,374.26 L1203.23,373.07 L1203.55,372.49 L1203,371.63 L1203.75,370 L1203.91,372.04 L1204.62,371.41 L1204.7,371.92 L1204.63,372.02 L1205.01,374.78 L1204.75,375.99 L1204.82,375.92 L1205.38,378.51 L1204.79,378.08 L1205.5,380 L1206.1,380.15 L1205.41,382.34 L1205.58,384.84 L1206.39,382.58 L1205.56,383.76 L1205.9,385.23 L1206.26,388.65 L1205.61,386.23 L1205.74,388.38 L1205.84,389.88 L1206.2,392.08 L1207,394.1 L1206.42,393.78 L1206.15,394.66 L1207.13,396.77 L1206.75,396.25 L1206.6,393.84 L1207.8,394.9 L1207.92,391.3 L1208.04,390.06 L1208.46,392.07 L1208.25,387.83 L1208.75,388.75 L1209.45,389.7 L1209.73,386.13 L1209.79,386.87 L1210.98,384.04 L1210.5,385.53 L1211.25,382.5 L1211.37,381.23 L1211.44,381.32 L1212.45,379.25 L1212.51,377.94 L1212.2,378.5 L1213.07,377.27 L1212.95,376.52 L1213.42,375.98 L1213.16,372.68 L1212.74,372.19 L1213.37,369.04 L1213.75,370 L1214.62,368.26 L1214.82,366.12 L1214.42,368.22 L1215.07,366.8 L1215.12,363.5 L1215.81,365.21 L1215.67,363.44 L1216.34,362.2 L1216.25,361.25 L1216.85,362.13 L1217.78,364.07 L1217.93,365.17 L1218.75,365 L1218.88,364.72 L1219.16,364.65 L1220.11,363.19 L1219.72,360.52 L1220.06,360.56 L1219.86,359.35 L1221.21,356.45 L1221.44,357.51 L1221.25,356.25 L1222.04,358.2 L1221.9,359.38 L1221.73,357.89 L1222.44,361.99 L1222.48,360.41 L1222.4,362.65 L1222.43,363.61 L1222.74,366.63 L1223.13,367.67 L1223.66,365.54 L1223.69,367.41 L1223.67,369.19 L1223.75,370 L1224.21,370.2 L1224.31,371.48 L1224.61,372.97 L1224.62,375.99 L1224.36,373.02 L1225.27,376.1 L1225.15,378.32 L1225.62,377.54 L1225.91,378.56 L1225.5,380 L1225.81,382.33 L1225.4,381.68 L1225.44,382.37 L1225.53,385.39 L1225.14,386.96 L1226.05,386.24 L1225.9,386.2 L1226.08,389.5 L1225.66,389 L1225.5,389 L1226.29,391.57 L1225.84,392.56 L1225.56,391.01 L1225.8,394.3 L1225.62,395.17 L1225.82,395.05 L1226.35,396.44 L1226.39,399 L1225.98,397.13 L1226.58,400.21 L1226.3,401.74 L1226.29,403.63 L1225.68,404.87 L1226.44,403.63 L1226.82,406.58 L1226.48,404.04 L1226.55,406.65 L1226.52,409.32 L1226.02,410.38 L1226.5,410 L1226.32,407.99 L1226.04,406.4 L1226.36,407.07 L1227.22,404.63 L1226.48,404.41 L1226.95,403.32 L1227.03,401.49 L1226.33,402.19 L1227.19,399.39 L1226.43,400.52 L1226.49,400.53 L1227.29,396.45 L1227,395.02 L1226.66,395.19 L1227.66,396.4 L1227.55,394.3 L1227.4,392.78 L1227.53,391.71 L1227.27,392.05 L1227.2,389.31 L1227.7,390.53 L1227.34,387.39 L1227.46,385.48 L1227.45,386.78 L1227.3,384.52 L1227.46,383.91 L1228.09,381.04 L1227.8,380.31 L1228.04,381.26 L1227.57,378.45 L1227.72,377.83 L1228,377.5 L1228.83,380.07 L1229.06,379.22 L1229.02,379.52 L1229.38,383.59 L1229.3,382.43 L1229.78,385.31 L1230.5,385 L1230.62,383.88 L1230.68,383.62 L1231.59,382.99 L1232.19,381.69 L1232,378.65 L1232.76,376.77 L1233,377.5 L1234.36,379.22 L1234.66,378.61 L1235.5,380 L1235.22,379.19 L1236.28,376.42 L1235.7,377.67 L1236.37,377.08 L1236.53,376.82 L1237.31,373.15 L1237.13,373.19 L1237.26,373.09 L1237.79,372.07 L1237.48,369.79 L1238,368.75 L1238.28,370.11 L1237.87,372.04 L1238.62,370.45 L1239.34,373.07 L1239.42,374.82 L1239.51,376.54 L1239.06,375.24 L1239.41,377.48 L1239.71,376.07 L1239.84,377.67 L1240.5,380 L1241.38,380.65 L1242.12,379.72 L1243,382.5 L1243.39,382.59 L1243.22,382.87 L1243.65,385.32 L1244.03,386.64 L1244.38,388.8 L1245.59,388.22 L1245.5,390 L1245.14,392.86 L1245.3,392.6 L1246.26,392.93 L1246.57,392.59 L1246.51,396.63 L1246.88,397.4 L1246.47,397.05 L1247.12,397.52 L1246.56,397.13 L1247,400 L1246.79,397.52 L1247.81,397.15 L1247.26,398.77 L1247.81,395.57 L1247.26,394.25 L1247.62,395.54 L1247.93,394.6 L1247.89,389.86 L1248.79,388.93 L1248.8,389.96 L1248.34,389.88 L1248.75,387.5 L1249.02,388.36 L1249.53,387.13 L1250.34,383.79 L1250.41,384.13 L1250.72,380.24 L1251.12,382.12 L1251.25,380 L1251.13,377.38 L1251.23,378.18 L1251.53,378.39 L1252.15,377.98 L1252.78,374.71 L1252.37,373.71 L1253.13,374.45 L1253.72,371.3 L1252.93,371.66 L1253.75,370 L1254.81,371.42 L1255.78,372.92 L1256.25,372.5 L1256.76,372.71 L1256.51,372.14 L1257.52,367.66 L1257.28,368.78 L1257.8,368.89 L1258.13,366.02 L1258.75,365 L1259.25,367.76 L1259.51,368.57 L1260.52,368.28 L1261.29,370.53 L1261.25,370 L1261.91,371.25 L1261.42,371.03 L1262.5,371.68 L1262.85,373.67 L1262.9,376.65 L1263.8,377.42 L1263.75,377.5 L1264.1,376.6 L1265.17,377.12 L1265.13,372.69 L1265.9,371.52 L1265.37,372.93 L1266.25,371.25 L1266.01,373.26 L1266.72,371.91 L1267.12,376.24 L1266.94,377.18 L1267.24,376.14 L1267.39,379 L1267.36,376.58 L1267.1,380.07 L1267.21,378.92 L1267.5,381.25 L1267.57,378.8 L1267.72,377.61 L1268.15,377.06 L1268.52,375.62 L1268.28,376.75 L1267.89,375.66 L1268.43,374.6 L1268.12,373.03 L1269.03,372.58 L1268.44,370.43 L1269.33,368.29 L1268.97,369.12 L1269.04,366.06 L1268.78,368.4 L1269.32,365.18 L1269.5,365 L1269.8,362.14 L1269.71,364.17 L1270.88,360.57 L1270.71,359.02 L1271.07,359.73 L1271.95,358.6 L1272,357.5 L1273.04,360.43 L1273.33,357.55 L1273.44,361 L1274.5,361.25 L1274.56,361.85 L1274.97,357.47 L1276.59,357.88 L1276.57,357.63 L1277,356.25 L1276.9,354.52 L1277.56,355.06 L1278.41,353.81 L1278.05,351.81 L1279.28,349.59 L1278.96,350.28 L1279.5,348.75 L1280.3,347.89 L1280.15,350.68 L1280.16,353.24 L1279.85,353.31 L1280.32,354.98 L1281.01,354.66 L1280.54,357.1 L1281.41,357.34 L1281.67,359.92 L1281.28,359.93 L1282.16,359.27 L1282,361.25 L1282.64,359.49 L1282.86,359.55 L1283.04,359.74 L1282.96,356.67 L1282.73,356.52 L1283.3,354.82 L1283.57,353.01 L1283.27,351.71 L1283.01,351.27 L1283.02,351.37 L1283.86,349.66 L1284.23,349.25 L1284.25,346.39 L1283.98,345.12 L1283.94,347.41 L1284.5,345 L1284.31,344.31 L1284.85,343.55 L1285.7,343.1 L1286.06,342.58 L1285.63,341.6 L1286.32,337.68 L1286.25,337.5 L1286.13,336.59 L1286.84,333.9 L1286.98,335.18 L1286.71,333.13 L1286.55,332.12 L1287.03,331.27 L1287.12,332 L1286.45,327.58 L1287.57,327.27 L1287.5,327.12 L1286.88,324.55 L1287.21,325.9 L1286.85,322.55 L1287.22,325.02 L1287.86,321.53 L1287.53,321.17 L1287.99,319.64 L1287.65,319.51 L1287.6,318.22 L1288,317.5 L1288.5,316.52 L1287.87,314.9 L1288.68,313.43 L1288.67,313.74 L1288.84,311.23 L1289.65,309.76 L1289.89,308.88 L1289.66,309.68 L1289.69,309 L1290,307.5 L1290.96,307.78 L1290.47,308.3 L1291.95,310.9 L1292.3,311.06 L1292.5,312.5 L1292.28,312.22 L1292.57,312.08 L1292.07,308.77 L1292.7,309.98 L1292.42,308.47 L1291.99,306.84 L1292.25,306.02 L1292.2,302.96 L1292.16,304.07 L1292.68,303.79 L1292.32,299.37 L1292.78,299.1 L1292.67,298.99 L1292.4,298 L1293.13,295.12 L1294,296 L1293.84,297.99 L1294.29,299.53 L1294.87,299.14 L1295.25,298.01 L1294.71,301.13 L1294.46,303.48 L1294.75,303.32 L1295.06,303.53 L1295.46,304.16 L1295.27,306.67 L1295.98,305.32 L1296,308 L1296.77,305.43 L1296.07,305.13 L1296.44,304.96 L1297.28,302.4 L1297.09,303.5 L1296.91,301.42 L1297.33,302.55 L1297.93,299.92 L1297.28,298.43 L1298,298 L1298.71,298.74 L1298.54,300.56 L1298.45,301.59 L1299.56,300.45 L1299.57,304.42 L1300,304 L1299.86,303.12 L1300.1,302.21 L1300.3,300.38 L1301.08,300.77 L1301.31,298.34 L1300.82,297.46 L1301.44,296.47 L1301.36,294.71 L1301.34,294.08 L1301.93,293.47 L1302.11,293.27 L1301.52,292.2 L1302.37,291.77 L1302,290 L1302.59,291.27 L1302.54,290.56 L1303,293.56 L1302.98,293.22 L1303.32,295.11 L1302.98,297.97 L1303.73,297.72 L1304.01,298.78 L1303.66,300.82 L1304,300 L1304.82,299.69 L1304.59,298 L1304.45,298.56 L1305.73,296.38 L1305.63,296.21 L1306,294 L1305.93,292.6 L1306.7,292.43 L1307.32,291.43 L1308,290 L1308.71,288.64 L1308,286.05 L1309.09,286.87 L1308.84,284.12 L1308.67,283 L1309.85,282.19 L1309.6,283 L1309.49,283.89 L1309.9,283.89 L1310.1,286.56 L1310.61,285.37 L1309.89,286.41 L1309.99,287.85 L1309.79,291.23 L1310.19,291.98 L1310.95,293.19 L1310.11,293.35 L1311.21,294.53 L1311.02,294.7 L1311,296 L1311.72,297.13 L1311.49,297.98 L1311.97,297.75 L1312.54,301.34 L1312.85,299.04 L1313,302 L1313.55,302.07 L1313.89,300.02 L1315,299 L1315.4,300.14 L1315.16,299.07 L1315.79,300.67 L1315.85,303.1 L1316.18,302.45 L1316.66,305.99 L1316.72,304.74 L1316.72,306.51 L1316.88,308.79 L1316.71,310.79 L1317,310 L1317.18,308.87 L1317.76,306.61 L1318.22,306.33 L1318.46,304.58 L1317.8,305.36 L1318.19,303.76 L1318.39,303.9 L1319,302 L1319.53,303.74 L1319.06,302.19 L1319.85,303.33 L1320.26,306.19 L1320.77,308.27 L1320.69,309.31 L1320.76,308.16 L1321,310 L1320.6,309.81 L1321.45,308.53 L1321.39,306.82 L1322,305.51 L1321.19,306.81 L1322.06,305.58 L1322.46,302.75 L1321.59,301.97 L1322.11,300.55 L1322.59,299 L1322.94,297.85 L1322.24,299.32 L1322.31,297.9 L1322.48,295.64 L1322.84,293.99 L1323,294 L1323.59,296.76 L1323.91,294.64 L1323.03,296.76 L1324.09,298.19 L1324.55,300.95 L1324.42,299.04 L1324.28,299.26 L1324.47,303 L1324.58,301.74 L1325,304 L1325.55,306.58 L1326.17,304.44 L1326.42,305.92 L1327,308 L1327.47,306.67 L1327.13,307.51 L1327.06,304.79 L1327.98,303.23 L1327.55,303.59 L1327.4,302.52 L1327.61,302.32 L1327.87,300.91 L1327.99,299.79 L1327.87,296.59 L1327.94,296.3 L1327.62,297.08 L1328.33,294.92 L1328.65,292.27 L1328.05,293.87 L1328.05,293.48 L1328.71,292.87 L1329.23,289.63 L1328.71,288.74 L1329,288 L1329.72,286.85 L1330.06,287.96 L1330.5,285.05 L1330.89,283.98 L1331,283 L1331.38,283.68 L1332.09,286.95 L1331.94,286.23 L1331.67,287.26 L1332.94,286.97 L1333.04,288.02 L1333,290 L1333.76,288.13 L1334.11,289.1 L1333.94,288.36 L1335,286 L1335.53,285.98 L1335.77,288.22 L1336.79,287.71 L1337,290 L1336.82,289.93 L1337.83,291.61 L1338.32,293.91 L1338.17,294.36 L1338.24,295.44 L1339,296 L1339.29,295.95 L1339.42,296.55 L1339.9,299.19 L1339.95,300.67 L1339.21,301.93 L1339.8,301.51 L1340.01,304.04 L1340.1,302.87 L1340,305 L1341.18,305.8 L1341.17,305.04 L1342.47,301.88 L1342.13,300.64 L1343.11,299.41 L1343.75,300 L1343.93,301.93 L1344.17,302.45 L1345.14,303.84 L1345.46,303.91 L1346.25,305 L1346.26,301.99 L1347.4,302.32 L1347.08,303.52 L1347.52,300.88 L1347.6,299.29 L1348.84,299.87 L1348.75,297.5 L1349.63,300.16 L1349.43,297.71 L1349.81,301.1 L1350.8,300.98 L1351.25,302.5 L1351.67,302.38 L1351.71,304.17 L1351.32,306.6 L1351.54,307.7 L1352.4,307.25 L1352.19,307.32 L1351.98,310.29 L1352.43,310.75 L1352.59,310.56 L1352.51,313.55 L1353,312.11 L1353.7,313.12 L1353.09,314.13 L1353.65,317.61 L1353.75,317.5 L1353.3,320.2 L1354.23,320.82 L1354.01,320.25 L1353.73,320.55 L1354.78,321.64 L1354.93,324.83 L1355.07,323.06 L1354.59,326.83 L1354.57,325.48 L1354.34,327.63 L1355.09,327.35 L1354.86,330.03 L1354.87,331.64 L1355.83,331.18 L1355.5,332.5 L1355.12,331.78 L1355.37,328.92 L1355.93,329.74 L1355.47,327.49 L1356.07,329.17 L1355.68,326.84 L1355.58,325.36 L1356.08,323.72 L1356.17,323.67 L1355.55,320.97 L1356.06,320.09 L1356.28,320.87 L1356.43,321.04 L1356.47,319.59 L1355.94,318.99 L1356.98,316.87 L1356.91,315.7 L1356.5,313.14 L1356.62,314.35 L1357.05,314.08 L1356.78,313.28 L1356.67,308.57 L1356.79,309.66 L1357.27,307.43 L1357,307.5 L1356.78,309.39 L1357.33,310.91 L1358.13,309.04 L1358.43,312.59 L1358.75,312.5 L1358.56,315.36 L1358.51,313.18 L1359.3,316.33 L1359.46,318.36 L1359.12,315.89 L1359.67,318.16 L1359.65,319.37 L1360.38,319.97 L1360.29,322.14 L1359.95,324.56 L1360.06,323.16 L1360.5,325 L1360.26,326.85 L1360.98,326.54 L1360.42,328.51 L1360.8,329.37 L1361.31,328.21 L1360.7,332.53 L1361.82,330.64 L1361.17,333.04 L1362.02,333.61 L1362.3,333.78 L1362.36,334.69 L1362,337.5 L1362.28,338.36 L1362.58,337.11 L1362.3,336.25 L1363.12,332.51 L1363.12,334.06 L1362.61,330.93 L1363.44,330.64 L1363.77,329.05 L1363.37,326.97 L1363.32,328.77 L1363.75,326.25 L1364.3,328.67 L1365.78,328.2 L1366.25,328.75 L1366.43,325.71 L1366.62,327.98 L1368.05,327.47 L1367.65,326.33 L1368.26,323.01 L1368.75,322.5 L1369.74,322.78 L1369.96,319.64 L1369.78,318.23 L1370.47,317.27 L1371.25,317.5 L1371.59,317.76 L1371.41,321.01 L1371.84,318.51 L1371.66,321.71 L1371.94,322.73 L1372.18,323.38 L1373.14,324.66 L1372.91,326.85 L1374.07,327.76 L1373.75,327.5 L1374.63,328.32 L1374.31,325.53 L1374.72,325.43 L1374.78,322.12 L1375.48,322.32 L1376.48,320.42 L1376.25,320 L1375.9,320.62 L1377.2,320.53 L1377.02,323.61 L1377.66,323.59 L1377.63,327.17 L1378.32,326.69 L1378,327.5 L1377.91,329.1 L1378.48,330.22 L1378.51,330.04 L1378.66,330.91 L1378.18,330.9 L1378.66,332.18 L1378.44,333.69 L1378.65,335.17 L1379.47,336.61 L1379.06,337.1 L1379.16,339.76 L1379.23,339.55 L1379.12,339.24 L1379.06,339.86 L1379.5,342.5 L1379.36,339.66 L1379.63,340.79 L1379.39,340.52 L1379.91,338.99 L1380,338.68 L1380.42,334.98 L1380.38,334.56 L1380.73,333.98 L1380.22,331.64 L1381.25,330.98 L1380.49,333.22 L1380.36,330.14 L1380.94,330.22 L1381.47,330.4 L1381.25,327.5 L1381.87,325 L1382.58,323.85 L1383.75,325 L1384.31,324.65 L1385.89,321.73 L1386.25,322.5 L1386.11,323.06 L1386.62,320.1 L1386.14,317.72 L1386.44,318.97 L1386.39,317.51 L1387.43,314.51 L1386.93,315.15 L1387.45,315.44 L1387.66,313.24 L1387.39,313.01 L1387.67,313.22 L1387.88,310.84 L1388.18,309.43 L1388.11,309.15 L1388.25,307.5 L1389.2,308.66 L1389.68,305.81 L1390.75,305 L1392.57,306.88 L1393.25,306.25 L1393.81,304.47 L1393.86,303.91 L1394.66,302.98 L1394.96,302.17 L1395.75,301.25 L1396.67,300.49 L1397.61,303.76 L1398.25,303.75 L1397.86,301.68 L1397.65,301.5 L1398.39,300.19 L1398.27,299.9 L1397.59,296.62 L1398.12,299.04 L1398.34,296.06 L1397.78,293.73 L1398.22,295.19 L1397.89,291.41 L1398,292 L1398.4,291.83 L1399.66,289.6 L1400,289 L1400.96,289.56 L1400.43,289.82 L1401.97,292.82 L1402,293 L1401.9,291.15 L1402.67,290.93 L1402.63,291.69 L1403.64,288.06 L1404,288 L1403.77,287.28 L1405.19,286.87 L1405.43,286.49 L1405.53,282.23 L1405.44,283.33 L1406,282 L1406.3,279.87 L1406.28,281.46 L1407.4,278.2 L1407.6,278 L1407.8,280.49 L1407.64,280.52 L1407.98,282.62 L1408.89,283.79 L1408.63,283.03 L1409,284 L1409.25,282.41 L1410.48,283.88 L1410.4,281 L1411.22,283.63 L1410.84,283.64 L1411.58,283.72 L1411.82,286.19 L1411.28,285.44 L1412,285.66 L1412,288 L1412.37,285.77 L1412.86,287.63 L1414,285 L1414.8,287.28 L1414.4,287.98 L1414.82,287.77 L1414.82,287.51 L1414.69,289.38 L1415.03,291.64 L1415.09,290.95 L1416.05,294.13 L1416.32,295.12 L1416,295 L1415.79,293.95 L1416.71,294.23 L1416.14,291.93 L1416.72,289.04 L1416.46,290.97 L1417.12,288.79 L1417.16,288.11 L1417.05,285.34 L1417.68,287.09 L1417.46,286.08 L1418.09,284.77 L1418.22,284.87 L1418,282 L1418.25,282.77 L1419.6,280 L1419.72,282.11 L1420.23,280.39 L1420.23,281.36 L1420.58,283.36 L1420.33,284.09 L1421.02,286.56 L1420.58,287.96 L1421,288 L1420.86,288.21 L1421.59,287.06 L1421.84,286.94 L1422.17,283.86 L1422.28,283.27 L1422.4,282 L1422.34,282.22 L1423.16,285.27 L1423.56,285.75 L1423.21,285.58 L1423.65,287.6 L1424.13,288.99 L1423.66,288.11 L1424,290 L1423.85,290.12 L1424.71,287.58 L1424.66,286.98 L1425.6,286 L1426.19,286.11 L1426.13,289.04 L1426.14,289.38 L1425.77,290.7 L1426.28,292.87 L1426.32,291.42 L1426.9,293.5 L1426.34,294.6 L1426.23,293.75 L1427.23,295.85 L1427.25,295.86 L1427,298 L1427.04,295.95 L1427.52,296.39 L1427.1,294.54 L1426.96,292.84 L1427.61,292.25 L1426.99,291.54 L1427.48,292.95 L1427.48,289.61 L1428.26,289.88 L1427.72,287.59 L1427.52,285.61 L1427.89,286.56 L1428,285 L1429.2,284" fill="none" stroke="#000" stroke-width="3.2" stroke-linejoin="round" stroke-linecap="round"/>
<path d="M357,731.75 C359.67,731.17 359.00,731.83 365,730 C371.00,728.17 368.33,730.00 375,726.25 C381.67,722.50 378.33,723.75 385,718.75 C391.67,713.75 388.33,717.08 395,711.25 C401.67,705.42 399.17,708.33 405,701.25 C410.83,694.17 407.50,700.42 412.5,690 C417.50,679.58 415.00,685.00 420,670 C425.00,655.00 421.67,660.00 427.5,645 C433.33,630.00 430.83,641.67 437.5,625 C444.17,608.33 440.83,614.58 447.5,595 C454.17,575.42 450.00,584.58 457.5,566.25 C465.00,547.92 462.50,555.42 470,540 C477.50,524.58 475.42,530.00 480,520 C484.58,510.00 480.83,517.08 483.75,510 C486.67,502.92 485.00,506.25 488.75,498.75 C492.50,491.25 490.42,495.00 495,487.5 C499.58,480.00 497.08,482.92 502.5,476.25 C507.92,469.58 505.42,472.08 511.25,467.5 C517.08,462.92 514.58,465.17 520,462.5 C525.42,459.83 522.50,461.58 527.5,459.5 C532.50,457.42 529.58,460.25 535,456.25 C540.42,452.25 537.92,453.75 543.75,447.5 C549.58,441.25 546.25,443.75 552.5,437.5 C558.75,431.25 555.83,434.58 562.5,428.75 C569.17,422.92 565.83,426.25 572.5,420 C579.17,413.75 575.83,417.50 582.5,410 C589.17,402.50 585.83,408.33 592.5,397.5 C599.17,386.67 596.67,389.17 602.5,377.5 C608.33,365.83 605.00,372.08 610,362.5 C615.00,352.92 612.50,357.08 617.5,348.75 C622.50,340.42 620.00,343.92 625,337.5 C630.00,331.08 627.50,334.08 632.5,329.5 C637.50,324.92 633.17,327.92 640,323.75 C646.83,319.58 642.17,323.75 653,317 C663.83,310.25 661.00,311.75 672.5,303.5 C684.00,295.25 679.00,299.00 687.5,292.25 C696.00,285.50 691.50,288.50 698,283.25 C704.50,278.00 701.50,280.00 707,276.5 C712.50,273.00 712.00,274.00 714.5,272.75" fill="none" stroke="#9933ff" stroke-width="2.6" stroke-linejoin="round" stroke-linecap="round"/>
<path d="M1036,732 C1037.33,731.75 1036.17,732.08 1040,731.25 C1043.83,730.42 1042.50,731.17 1047.5,729.5 C1052.50,727.83 1049.17,729.00 1055,726.25 C1060.83,723.50 1058.33,724.58 1065,721.25 C1071.67,717.92 1068.33,720.00 1075,716.25 C1081.67,712.50 1078.33,715.00 1085,710 C1091.67,705.00 1088.33,707.08 1095,701.25 C1101.67,695.42 1099.17,697.50 1105,692.5 C1110.83,687.50 1107.50,690.42 1112.5,686.25 C1117.50,682.08 1115.00,684.58 1120,680 C1125.00,675.42 1122.92,678.33 1127.5,672.5 C1132.08,666.67 1130.00,670.83 1133.75,662.5 C1137.50,654.17 1135.42,659.17 1138.75,647.5 C1142.08,635.83 1140.42,640.83 1143.75,627.5 C1147.08,614.17 1145.42,618.33 1148.75,607.5 C1152.08,596.67 1150.00,602.50 1153.75,595 C1157.50,587.50 1155.42,591.25 1160,585 C1164.58,578.75 1162.50,581.25 1167.5,576.25 C1172.50,571.25 1170.00,573.92 1175,570 C1180.00,566.08 1177.50,569.50 1182.5,564.5 C1187.50,559.50 1184.17,562.33 1190,555 C1195.83,547.67 1193.33,549.58 1200,542.5 C1206.67,535.42 1203.33,539.17 1210,533.75 C1216.67,528.33 1214.17,530.83 1220,526.25 C1225.83,521.67 1222.50,524.58 1227.5,520 C1232.50,515.42 1229.17,517.08 1235,512.5 C1240.83,507.92 1238.33,510.00 1245,506.25 C1251.67,502.50 1248.33,505.00 1255,501.25 C1261.67,497.50 1258.33,500.42 1265,495 C1271.67,489.58 1268.75,491.67 1275,485 C1281.25,478.33 1278.75,481.67 1283.75,475 C1288.75,468.33 1286.25,472.50 1290,465 C1293.75,457.50 1291.67,462.50 1295,452.5 C1298.33,442.50 1296.67,448.33 1300,435 C1303.33,421.67 1301.67,427.50 1305,412.5 C1308.33,397.50 1306.67,404.17 1310,390 C1313.33,375.83 1311.67,382.92 1315,370 C1318.33,357.08 1316.67,362.08 1320,351.25 C1323.33,340.42 1321.67,345.83 1325,337.5 C1328.33,329.17 1326.25,333.75 1330,326.25 C1333.75,318.75 1333.58,320.42 1336.25,315 C1338.92,309.58 1335.75,315.00 1338,310 C1340.25,305.00 1339.33,307.00 1343,300 C1346.67,293.00 1344.00,296.33 1349,289 C1354.00,281.67 1352.33,284.33 1358,278 C1363.67,271.67 1360.00,275.33 1366,270 C1372.00,264.67 1368.67,267.67 1376,262 C1383.33,256.33 1380.67,259.67 1388,253 C1395.33,246.33 1392.00,249.67 1398,242 C1404.00,234.33 1401.33,238.00 1406,230 C1410.67,222.00 1408.00,226.00 1412,218 C1416.00,210.00 1414.33,213.00 1418,206 C1421.67,199.00 1419.53,203.00 1423,197 C1426.47,191.00 1426.60,191.00 1428.4,188" fill="none" stroke="#0a14ff" stroke-width="2.6" stroke-linejoin="round" stroke-linecap="round"/>
<path d="M1046.25,640.5 L1127.65,299.3" fill="none" stroke="#f1246f" stroke-width="2.8" stroke-linecap="butt"/>
<path d="M1115.25,306.5 L1127.65,299.3 L1135.75,311.25" fill="none" stroke="#f1246f" stroke-width="2.8" stroke-linejoin="miter" stroke-linecap="round"/>
<path d="M1223,581.25 L1283.5,196.75" fill="none" stroke="#f1246f" stroke-width="2.8" stroke-linecap="butt"/>
<path d="M1271.75,204.75 L1283.5,196.75 L1292.5,208" fill="none" stroke="#f1246f" stroke-width="2.8" stroke-linejoin="miter" stroke-linecap="round"/>
<path d="M1378.75,616.25 L1411.0,441.25" fill="none" stroke="#f1246f" stroke-width="2.8" stroke-linecap="butt"/>
<path d="M1399,448.75 L1411.0,441.25 L1419.5,452.75" fill="none" stroke="#f1246f" stroke-width="2.8" stroke-linejoin="miter" stroke-linecap="round"/>
<circle cx="714.2" cy="273.2" r="17.3" fill="none" stroke="#000" stroke-width="1.7"/>
<circle cx="1427.6" cy="188.4" r="17.3" fill="none" stroke="#000" stroke-width="1.7"/>
</svg>
<div class="t" id="title" style="left:38.8px;top:39.6px;font-size:31.5px;color:#000;letter-spacing:0.13px;">Bitcoin: Bull Market Profit Realization Trend</div>
<div style="position:absolute;left:48px;top:104.8px;width:8px;height:8px;border-radius:50%;background:#14b83a"></div>
<div class="t lg" style="left:60px;top:103.5px;font-size:12px;color:#111;">BTC: Realized Profit [USD]</div>
<div style="position:absolute;left:225px;top:104.8px;width:8px;height:8px;border-radius:50%;background:#000"></div>
<div class="t lg" style="left:237.5px;top:103.5px;font-size:12px;color:#111;">BTC: Price [USD]</div>
<div style="position:absolute;left:350px;top:104.8px;width:8px;height:8px;border-radius:50%;background:#0a14ff"></div>
<div class="t lg" style="left:362px;top:103.5px;font-size:12px;color:#111;">2023-Present Bull Market</div>
<div style="position:absolute;left:523px;top:104.8px;width:8px;height:8px;border-radius:50%;background:#9a35ff"></div>
<div class="t lg" style="left:535px;top:103.5px;font-size:12px;color:#111;">2020-2022 Bull Market</div>
<div class="t ax r" style="transform:scaleX(1.115);right:1450.3px;top:723.6px;">0</div>
<div class="t ax r" style="transform:scaleX(1.115);right:1450.3px;top:682.0px;">50B</div>
<div class="t ax r" style="transform:scaleX(1.115);right:1450.3px;top:640.4px;">100B</div>
<div class="t ax r" style="transform:scaleX(1.115);right:1450.3px;top:598.8px;">150B</div>
<div class="t ax r" style="transform:scaleX(1.115);right:1450.3px;top:557.3px;">200B</div>
<div class="t ax r" style="transform:scaleX(1.115);right:1450.3px;top:515.7px;">250B</div>
<div class="t ax r" style="transform:scaleX(1.115);right:1450.3px;top:474.1px;">300B</div>
<div class="t ax r" style="transform:scaleX(1.115);right:1450.3px;top:432.5px;">350B</div>
<div class="t ax r" style="transform:scaleX(1.115);right:1450.3px;top:390.9px;">400B</div>
<div class="t ax r" style="transform:scaleX(1.115);right:1450.3px;top:349.3px;">450B</div>
<div class="t ax r" style="transform:scaleX(1.115);right:1450.3px;top:307.8px;">500B</div>
<div class="t ax r" style="transform:scaleX(1.115);right:1450.3px;top:266.2px;">550B</div>
<div class="t ax r" style="transform:scaleX(1.115);right:1450.3px;top:224.6px;">600B</div>
<div class="t ax r" style="transform:scaleX(1.115);right:1450.3px;top:183.0px;">650B</div>
<div class="t ax r" style="transform:scaleX(1.07);right:1372.7px;top:724.3px;">$0</div>
<div class="t ax r" style="transform:scaleX(1.07);right:1372.7px;top:648.0px;">$500m</div>
<div class="t ax r" style="transform:scaleX(1.07);right:1372.7px;top:571.8px;">$1b</div>
<div class="t ax r" style="transform:scaleX(1.07);right:1372.7px;top:495.5px;">$1.5b</div>
<div class="t ax r" style="transform:scaleX(1.07);right:1372.7px;top:419.3px;">$2b</div>
<div class="t ax r" style="transform:scaleX(1.07);right:1372.7px;top:343.0px;">$2.5b</div>
<div class="t ax r" style="transform:scaleX(1.07);right:1372.7px;top:266.8px;">$3b</div>
<div class="t ax r" style="transform:scaleX(1.07);right:1372.7px;top:190.5px;">$3.5b</div>
<div class="t ax l" style="transform:scaleX(1.10);left:1454px;top:175.3px;">$200k</div>
<div class="t ax l" style="transform:scaleX(1.10);left:1454px;top:289.0px;">$100k</div>
<div class="t ax l" style="transform:scaleX(1.10);left:1454px;top:347.0px;">$70k</div>
<div class="t ax l" style="transform:scaleX(1.10);left:1454px;top:402.0px;">$50k</div>
<div class="t ax l" style="transform:scaleX(1.10);left:1454px;top:486.5px;">$30k</div>
<div class="t ax l" style="transform:scaleX(1.10);left:1454px;top:552.5px;">$20k</div>
<div class="t ax l" style="transform:scaleX(1.10);left:1454px;top:666.5px;">$10k</div>
<div class="t ax l" style="transform:scaleX(1.10);left:1454px;top:724.5px;">$7k</div>
<div class="t ax c" style="left:272px;width:80px;top:752.1px;">Aug '20</div>
<div class="t ax c" style="left:347.5px;width:80px;top:752.1px;">Dec '20</div>
<div class="t ax c" style="left:423.75px;width:80px;top:752.1px;">Apr '21</div>
<div class="t ax c" style="left:499.5px;width:80px;top:752.1px;">Aug '21</div>
<div class="t ax c" style="left:575px;width:80px;top:752.1px;">Dec '21</div>
<div class="t ax c" style="left:651.25px;width:80px;top:752.1px;">Apr '22</div>
<div class="t ax c" style="left:727.5px;width:80px;top:752.1px;">Aug '22</div>
<div class="t ax c" style="left:803.25px;width:80px;top:752.1px;">Dec '22</div>
<div class="t ax c" style="left:879.5px;width:80px;top:752.1px;">Apr '23</div>
<div class="t ax c" style="left:955px;width:80px;top:752.1px;">Aug '23</div>
<div class="t ax c" style="left:1031.25px;width:80px;top:752.1px;">Dec '23</div>
<div class="t ax c" style="left:1107.5px;width:80px;top:752.1px;">Apr '24</div>
<div class="t ax c" style="left:1183.25px;width:80px;top:752.1px;">Aug '24</div>
<div class="t ax c" style="left:1259.5px;width:80px;top:752.1px;">Dec '24</div>
<div class="t ax c" style="left:1335.5px;width:80px;top:752.1px;">Apr '25</div>
<div class="t" id="a1" style="left:678.4px;top:228.3px;font-size:22px;font-weight:bold;color:#000;letter-spacing:0.7px;">$550B</div>
<div class="t" id="a2" style="left:1392px;top:144.3px;font-size:22px;font-weight:bold;color:#000;letter-spacing:0.7px;">$650B</div>
<div class="t" id="foot" style="left:40px;top:842.5px;font-size:20.1px;color:#808080;">© 2025 Glassnode. All Rights Reserved.</div>
<svg width="1600" height="900" viewBox="0 0 1600 900" style="position:absolute;left:0;top:0;pointer-events:none"><text x="1363.8" y="866.1" font-family="'Liberation Sans',sans-serif" font-size="41.4" fill="#d9d9d9" textLength="194" lengthAdjust="spacingAndGlyphs">glassnode</text></svg>
</body></html>
